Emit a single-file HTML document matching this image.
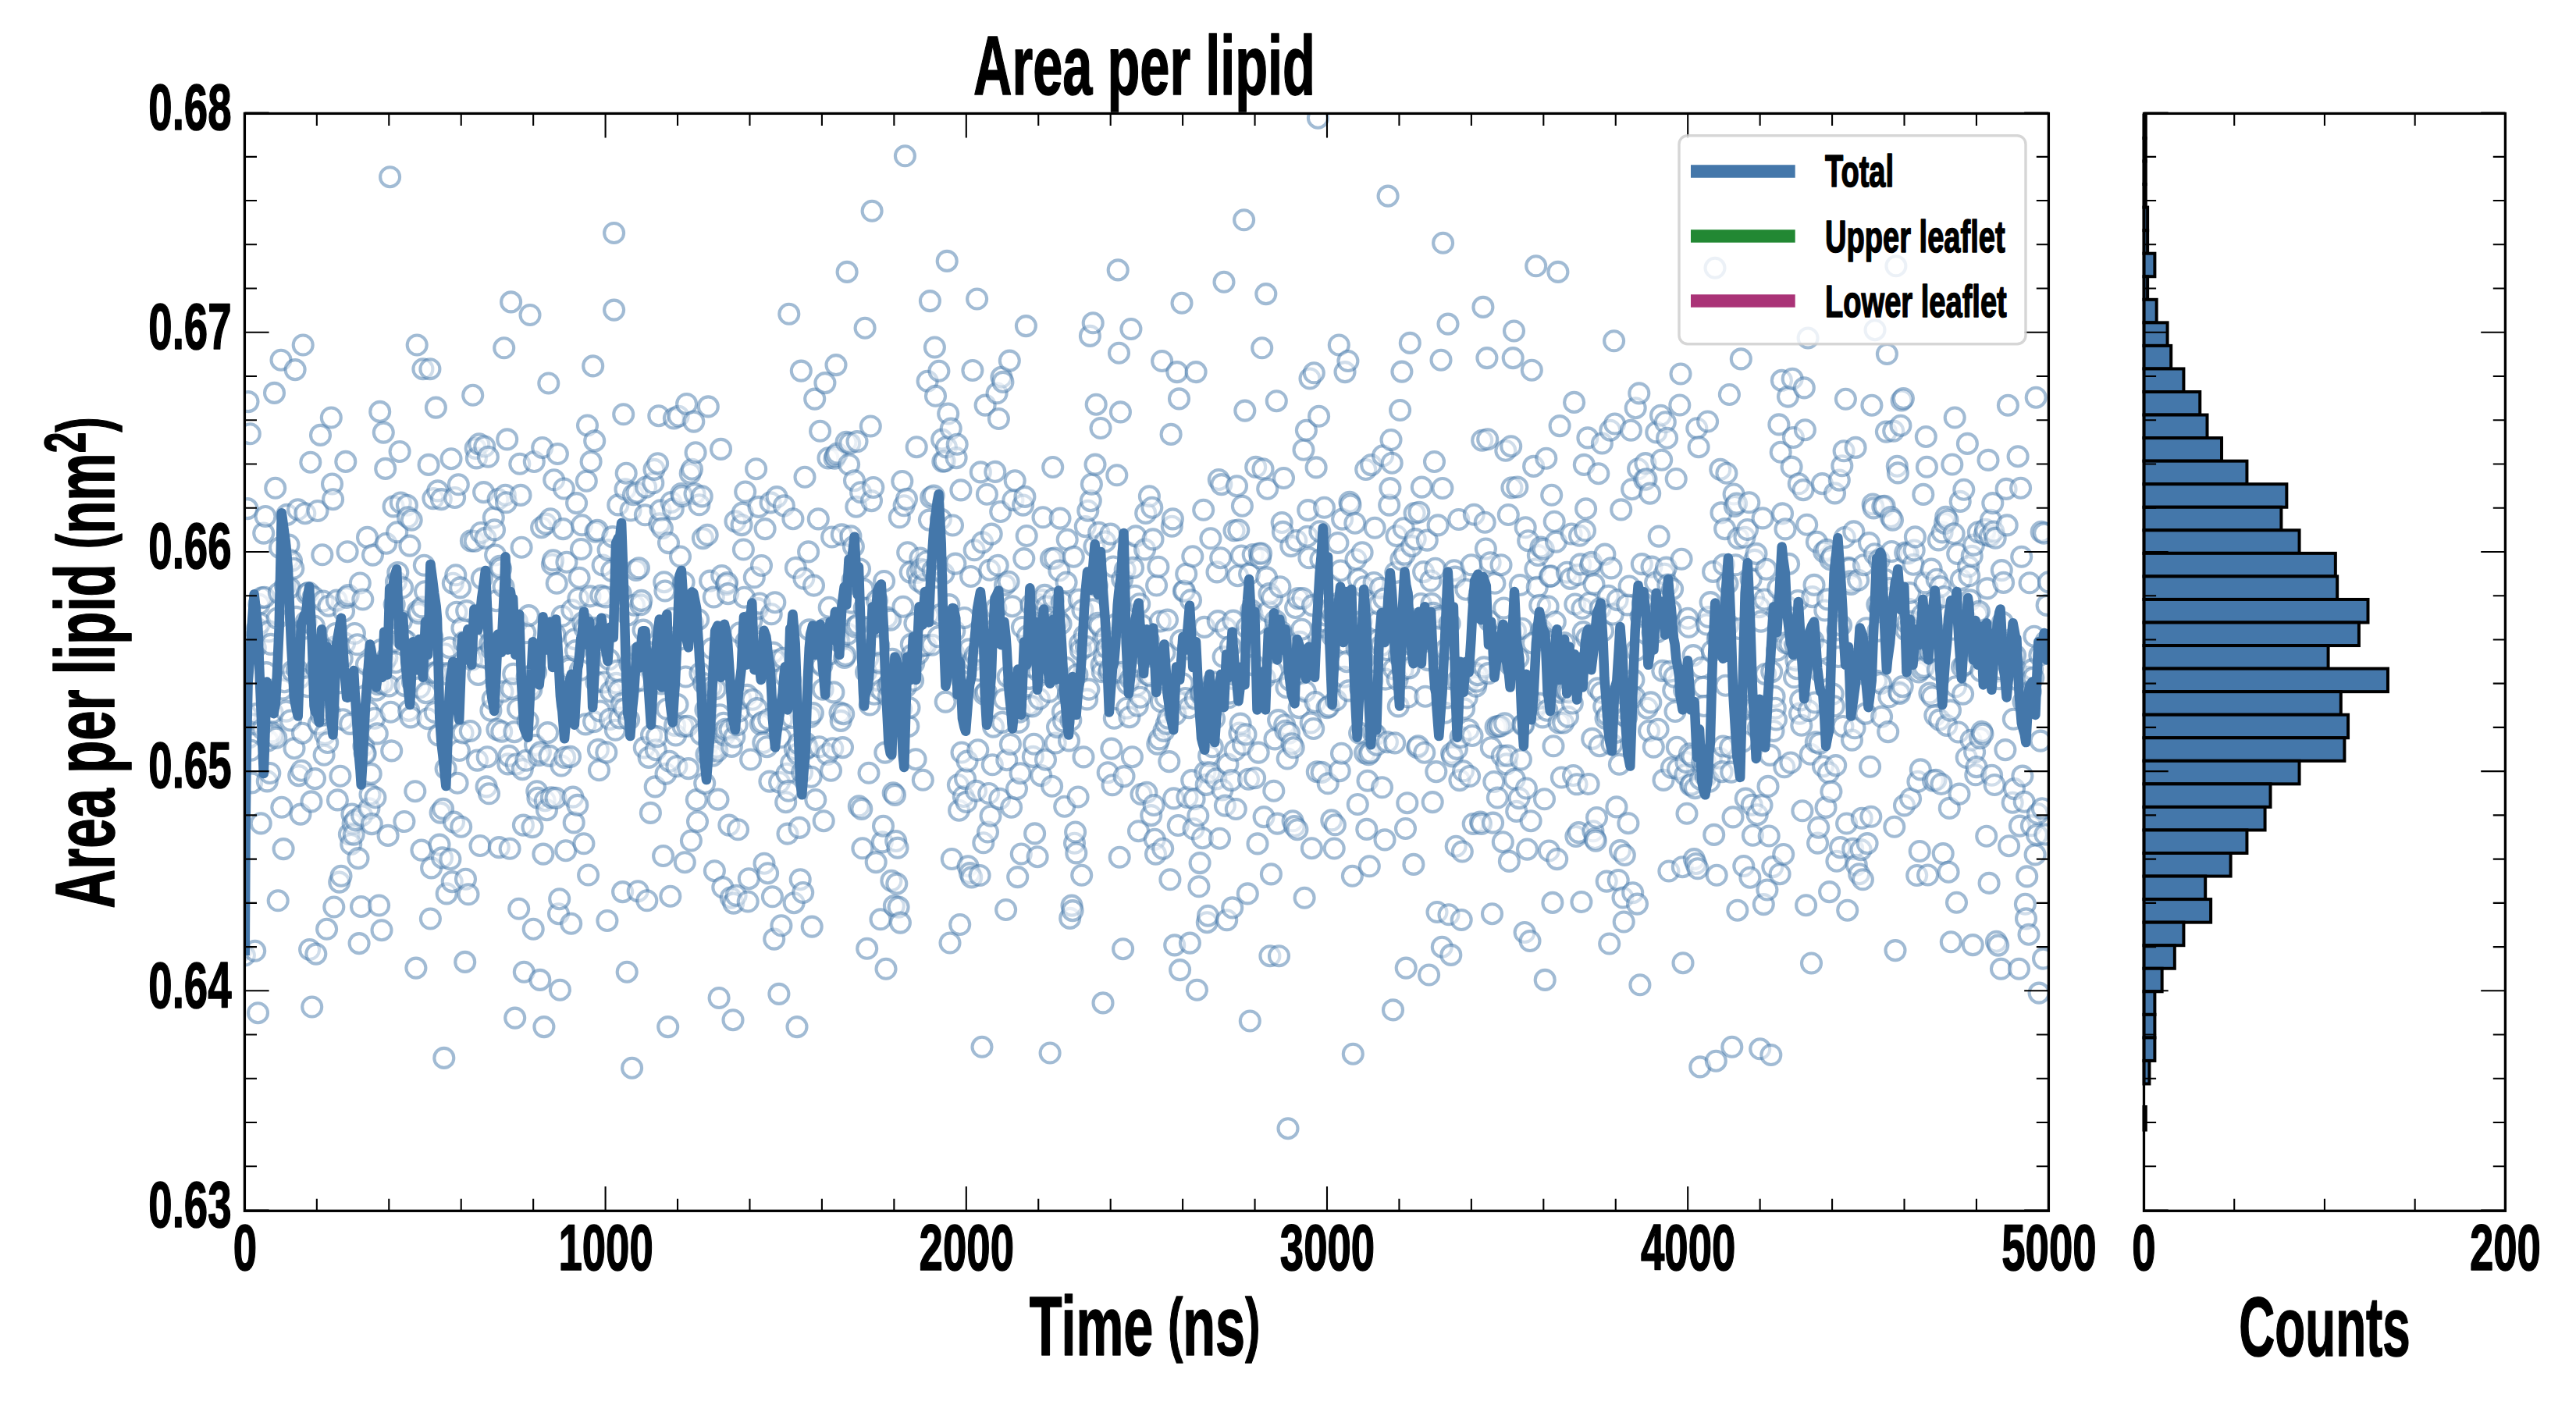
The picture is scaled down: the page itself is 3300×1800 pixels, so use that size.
<!DOCTYPE html><html><head><meta charset="utf-8"><title>Area per lipid</title><style>html,body{margin:0;padding:0;background:#fff}svg{display:block}text{font-family:"Liberation Sans",sans-serif;font-weight:bold;fill:#000;stroke:#000;stroke-width:1.6px;stroke-linejoin:round}</style></head><body>
<svg width="3300" height="1800" viewBox="0 0 3300 1800">
<rect width="3300" height="1800" fill="#fff"/>
<defs><clipPath id="c1"><rect x="313.4" y="145.4" width="2311.0" height="1405.8999999999999"/></clipPath><clipPath id="c2"><rect x="2742.5" y="145.4" width="466.9000000000001" height="1405.8999999999999"/></clipPath></defs>
<g clip-path="url(#c1)" fill="#fff" fill-opacity="0.5" stroke="#4477AA" stroke-opacity="0.5" stroke-width="4.1">
<circle cx="308.7" cy="1218.3" r="12.5"/>
<circle cx="313.4" cy="1224.0" r="12.5"/>
<circle cx="315.7" cy="915.7" r="12.5"/>
<circle cx="316.9" cy="651.6" r="12.5"/>
<circle cx="318.0" cy="514.6" r="12.5"/>
<circle cx="319.2" cy="944.6" r="12.5"/>
<circle cx="320.3" cy="555.8" r="12.5"/>
<circle cx="321.5" cy="961.2" r="12.5"/>
<circle cx="322.6" cy="1002.9" r="12.5"/>
<circle cx="323.8" cy="927.7" r="12.5"/>
<circle cx="325.0" cy="819.6" r="12.5"/>
<circle cx="326.7" cy="1218.3" r="12.5"/>
<circle cx="327.3" cy="829.7" r="12.5"/>
<circle cx="328.4" cy="914.6" r="12.5"/>
<circle cx="329.6" cy="805.3" r="12.5"/>
<circle cx="330.5" cy="1297.7" r="12.5"/>
<circle cx="331.9" cy="774.2" r="12.5"/>
<circle cx="333.0" cy="798.5" r="12.5"/>
<circle cx="334.2" cy="1054.9" r="12.5"/>
<circle cx="335.4" cy="765.8" r="12.5"/>
<circle cx="336.5" cy="934.0" r="12.5"/>
<circle cx="337.7" cy="683.1" r="12.5"/>
<circle cx="338.8" cy="765.2" r="12.5"/>
<circle cx="340.0" cy="661.5" r="12.5"/>
<circle cx="341.1" cy="861.6" r="12.5"/>
<circle cx="342.3" cy="1000.9" r="12.5"/>
<circle cx="343.4" cy="948.9" r="12.5"/>
<circle cx="344.6" cy="808.9" r="12.5"/>
<circle cx="345.8" cy="990.5" r="12.5"/>
<circle cx="346.9" cy="825.4" r="12.5"/>
<circle cx="348.1" cy="938.0" r="12.5"/>
<circle cx="349.2" cy="913.0" r="12.5"/>
<circle cx="350.4" cy="942.3" r="12.5"/>
<circle cx="351.5" cy="503.4" r="12.5"/>
<circle cx="352.7" cy="625.3" r="12.5"/>
<circle cx="353.8" cy="945.3" r="12.5"/>
<circle cx="355.0" cy="792.2" r="12.5"/>
<circle cx="356.2" cy="1153.8" r="12.5"/>
<circle cx="357.3" cy="759.7" r="12.5"/>
<circle cx="358.5" cy="701.7" r="12.5"/>
<circle cx="360.0" cy="461.2" r="12.5"/>
<circle cx="360.8" cy="1034.3" r="12.5"/>
<circle cx="361.9" cy="883.1" r="12.5"/>
<circle cx="363.1" cy="1087.6" r="12.5"/>
<circle cx="364.2" cy="873.7" r="12.5"/>
<circle cx="365.4" cy="750.6" r="12.5"/>
<circle cx="366.6" cy="911.1" r="12.5"/>
<circle cx="367.7" cy="659.4" r="12.5"/>
<circle cx="368.9" cy="716.4" r="12.5"/>
<circle cx="370.0" cy="698.0" r="12.5"/>
<circle cx="371.2" cy="753.1" r="12.5"/>
<circle cx="372.3" cy="923.0" r="12.5"/>
<circle cx="373.5" cy="718.5" r="12.5"/>
<circle cx="374.6" cy="859.7" r="12.5"/>
<circle cx="375.8" cy="728.3" r="12.5"/>
<circle cx="377.0" cy="958.7" r="12.5"/>
<circle cx="378.1" cy="473.6" r="12.5"/>
<circle cx="379.3" cy="790.4" r="12.5"/>
<circle cx="380.4" cy="857.7" r="12.5"/>
<circle cx="381.6" cy="652.8" r="12.5"/>
<circle cx="382.7" cy="993.6" r="12.5"/>
<circle cx="383.9" cy="868.6" r="12.5"/>
<circle cx="385.0" cy="1043.1" r="12.5"/>
<circle cx="386.2" cy="987.2" r="12.5"/>
<circle cx="387.4" cy="939.2" r="12.5"/>
<circle cx="388.2" cy="442.0" r="12.5"/>
<circle cx="389.7" cy="805.2" r="12.5"/>
<circle cx="390.8" cy="657.7" r="12.5"/>
<circle cx="392.0" cy="796.7" r="12.5"/>
<circle cx="393.1" cy="760.6" r="12.5"/>
<circle cx="394.3" cy="879.7" r="12.5"/>
<circle cx="395.4" cy="759.2" r="12.5"/>
<circle cx="396.6" cy="1216.5" r="12.5"/>
<circle cx="397.8" cy="592.2" r="12.5"/>
<circle cx="398.9" cy="1026.9" r="12.5"/>
<circle cx="399.7" cy="1290.0" r="12.5"/>
<circle cx="401.2" cy="764.5" r="12.5"/>
<circle cx="402.4" cy="802.0" r="12.5"/>
<circle cx="403.5" cy="997.6" r="12.5"/>
<circle cx="404.8" cy="1222.1" r="12.5"/>
<circle cx="405.8" cy="856.5" r="12.5"/>
<circle cx="407.0" cy="654.5" r="12.5"/>
<circle cx="408.2" cy="927.5" r="12.5"/>
<circle cx="409.3" cy="828.6" r="12.5"/>
<circle cx="410.5" cy="557.4" r="12.5"/>
<circle cx="411.6" cy="916.7" r="12.5"/>
<circle cx="412.8" cy="710.8" r="12.5"/>
<circle cx="413.9" cy="770.0" r="12.5"/>
<circle cx="415.1" cy="967.2" r="12.5"/>
<circle cx="416.2" cy="940.6" r="12.5"/>
<circle cx="417.4" cy="838.7" r="12.5"/>
<circle cx="418.6" cy="1190.3" r="12.5"/>
<circle cx="419.7" cy="951.5" r="12.5"/>
<circle cx="420.9" cy="776.2" r="12.5"/>
<circle cx="422.0" cy="912.4" r="12.5"/>
<circle cx="423.2" cy="845.4" r="12.5"/>
<circle cx="424.3" cy="535.0" r="12.5"/>
<circle cx="425.5" cy="620.0" r="12.5"/>
<circle cx="426.6" cy="639.7" r="12.5"/>
<circle cx="427.8" cy="1162.0" r="12.5"/>
<circle cx="428.9" cy="828.9" r="12.5"/>
<circle cx="430.1" cy="811.5" r="12.5"/>
<circle cx="431.3" cy="769.1" r="12.5"/>
<circle cx="432.4" cy="1024.9" r="12.5"/>
<circle cx="433.6" cy="875.0" r="12.5"/>
<circle cx="434.7" cy="1130.1" r="12.5"/>
<circle cx="435.9" cy="994.2" r="12.5"/>
<circle cx="437.0" cy="1122.3" r="12.5"/>
<circle cx="438.2" cy="843.7" r="12.5"/>
<circle cx="439.3" cy="921.8" r="12.5"/>
<circle cx="440.5" cy="782.9" r="12.5"/>
<circle cx="441.7" cy="824.1" r="12.5"/>
<circle cx="442.8" cy="591.4" r="12.5"/>
<circle cx="444.0" cy="765.4" r="12.5"/>
<circle cx="445.1" cy="706.7" r="12.5"/>
<circle cx="446.3" cy="762.6" r="12.5"/>
<circle cx="447.4" cy="1068.8" r="12.5"/>
<circle cx="448.6" cy="927.4" r="12.5"/>
<circle cx="449.7" cy="1081.4" r="12.5"/>
<circle cx="450.9" cy="1043.0" r="12.5"/>
<circle cx="452.1" cy="1055.2" r="12.5"/>
<circle cx="453.2" cy="1069.1" r="12.5"/>
<circle cx="454.4" cy="811.5" r="12.5"/>
<circle cx="455.5" cy="1050.6" r="12.5"/>
<circle cx="456.7" cy="869.3" r="12.5"/>
<circle cx="457.8" cy="825.8" r="12.5"/>
<circle cx="459.0" cy="1099.6" r="12.5"/>
<circle cx="460.1" cy="1208.6" r="12.5"/>
<circle cx="461.3" cy="747.0" r="12.5"/>
<circle cx="462.5" cy="1161.5" r="12.5"/>
<circle cx="463.6" cy="1044.8" r="12.5"/>
<circle cx="464.8" cy="768.0" r="12.5"/>
<circle cx="465.9" cy="955.7" r="12.5"/>
<circle cx="467.1" cy="964.7" r="12.5"/>
<circle cx="468.2" cy="965.5" r="12.5"/>
<circle cx="469.4" cy="851.3" r="12.5"/>
<circle cx="470.5" cy="688.4" r="12.5"/>
<circle cx="471.7" cy="911.1" r="12.5"/>
<circle cx="472.9" cy="1035.7" r="12.5"/>
<circle cx="474.0" cy="1017.9" r="12.5"/>
<circle cx="475.2" cy="991.4" r="12.5"/>
<circle cx="476.3" cy="1055.6" r="12.5"/>
<circle cx="477.5" cy="711.1" r="12.5"/>
<circle cx="478.6" cy="862.8" r="12.5"/>
<circle cx="479.8" cy="920.3" r="12.5"/>
<circle cx="480.9" cy="1021.8" r="12.5"/>
<circle cx="482.1" cy="884.1" r="12.5"/>
<circle cx="483.3" cy="939.9" r="12.5"/>
<circle cx="484.4" cy="876.7" r="12.5"/>
<circle cx="485.6" cy="1160.0" r="12.5"/>
<circle cx="486.7" cy="527.4" r="12.5"/>
<circle cx="487.9" cy="832.5" r="12.5"/>
<circle cx="489.0" cy="1191.7" r="12.5"/>
<circle cx="490.2" cy="875.7" r="12.5"/>
<circle cx="491.3" cy="554.1" r="12.5"/>
<circle cx="492.5" cy="848.5" r="12.5"/>
<circle cx="493.7" cy="600.4" r="12.5"/>
<circle cx="494.8" cy="696.2" r="12.5"/>
<circle cx="496.0" cy="842.4" r="12.5"/>
<circle cx="497.1" cy="1070.4" r="12.5"/>
<circle cx="498.3" cy="878.9" r="12.5"/>
<circle cx="499.6" cy="226.7" r="12.5"/>
<circle cx="500.6" cy="912.2" r="12.5"/>
<circle cx="501.7" cy="961.9" r="12.5"/>
<circle cx="502.9" cy="822.3" r="12.5"/>
<circle cx="504.1" cy="648.9" r="12.5"/>
<circle cx="505.2" cy="774.5" r="12.5"/>
<circle cx="506.4" cy="848.6" r="12.5"/>
<circle cx="507.5" cy="745.5" r="12.5"/>
<circle cx="508.7" cy="681.8" r="12.5"/>
<circle cx="509.8" cy="733.5" r="12.5"/>
<circle cx="512.1" cy="578.5" r="12.5"/>
<circle cx="513.3" cy="644.0" r="12.5"/>
<circle cx="514.5" cy="795.5" r="12.5"/>
<circle cx="515.6" cy="752.8" r="12.5"/>
<circle cx="516.8" cy="819.3" r="12.5"/>
<circle cx="517.9" cy="1052.5" r="12.5"/>
<circle cx="519.1" cy="878.6" r="12.5"/>
<circle cx="520.2" cy="821.2" r="12.5"/>
<circle cx="521.4" cy="647.3" r="12.5"/>
<circle cx="522.5" cy="662.8" r="12.5"/>
<circle cx="523.7" cy="910.4" r="12.5"/>
<circle cx="524.9" cy="699.1" r="12.5"/>
<circle cx="526.0" cy="918.9" r="12.5"/>
<circle cx="527.2" cy="666.3" r="12.5"/>
<circle cx="528.3" cy="873.2" r="12.5"/>
<circle cx="529.5" cy="836.7" r="12.5"/>
<circle cx="531.8" cy="1013.7" r="12.5"/>
<circle cx="532.9" cy="1240.1" r="12.5"/>
<circle cx="534.2" cy="442.0" r="12.5"/>
<circle cx="535.3" cy="782.7" r="12.5"/>
<circle cx="536.4" cy="785.7" r="12.5"/>
<circle cx="537.6" cy="880.8" r="12.5"/>
<circle cx="538.7" cy="838.9" r="12.5"/>
<circle cx="539.9" cy="1089.1" r="12.5"/>
<circle cx="541.0" cy="777.9" r="12.5"/>
<circle cx="541.9" cy="472.7" r="12.5"/>
<circle cx="543.3" cy="724.3" r="12.5"/>
<circle cx="544.5" cy="757.8" r="12.5"/>
<circle cx="545.7" cy="887.6" r="12.5"/>
<circle cx="546.8" cy="840.7" r="12.5"/>
<circle cx="548.0" cy="920.7" r="12.5"/>
<circle cx="549.1" cy="595.4" r="12.5"/>
<circle cx="550.9" cy="472.7" r="12.5"/>
<circle cx="551.4" cy="1177.0" r="12.5"/>
<circle cx="552.6" cy="1111.9" r="12.5"/>
<circle cx="553.7" cy="815.7" r="12.5"/>
<circle cx="554.9" cy="638.6" r="12.5"/>
<circle cx="556.1" cy="861.8" r="12.5"/>
<circle cx="557.2" cy="912.5" r="12.5"/>
<circle cx="558.4" cy="522.1" r="12.5"/>
<circle cx="559.5" cy="862.3" r="12.5"/>
<circle cx="560.7" cy="628.9" r="12.5"/>
<circle cx="561.8" cy="942.0" r="12.5"/>
<circle cx="563.0" cy="1082.1" r="12.5"/>
<circle cx="564.1" cy="1041.1" r="12.5"/>
<circle cx="565.3" cy="639.6" r="12.5"/>
<circle cx="566.5" cy="1098.9" r="12.5"/>
<circle cx="567.6" cy="1036.3" r="12.5"/>
<circle cx="568.8" cy="1355.4" r="12.5"/>
<circle cx="569.9" cy="837.8" r="12.5"/>
<circle cx="571.1" cy="984.8" r="12.5"/>
<circle cx="572.2" cy="1144.9" r="12.5"/>
<circle cx="573.4" cy="863.9" r="12.5"/>
<circle cx="574.5" cy="921.2" r="12.5"/>
<circle cx="575.7" cy="829.7" r="12.5"/>
<circle cx="576.9" cy="1100.7" r="12.5"/>
<circle cx="578.0" cy="587.7" r="12.5"/>
<circle cx="579.2" cy="1129.6" r="12.5"/>
<circle cx="580.3" cy="747.2" r="12.5"/>
<circle cx="581.5" cy="1053.1" r="12.5"/>
<circle cx="582.6" cy="637.5" r="12.5"/>
<circle cx="583.8" cy="736.8" r="12.5"/>
<circle cx="584.9" cy="784.2" r="12.5"/>
<circle cx="586.1" cy="1003.2" r="12.5"/>
<circle cx="587.3" cy="620.8" r="12.5"/>
<circle cx="588.4" cy="961.5" r="12.5"/>
<circle cx="589.6" cy="752.9" r="12.5"/>
<circle cx="590.7" cy="1059.2" r="12.5"/>
<circle cx="591.9" cy="804.8" r="12.5"/>
<circle cx="593.0" cy="939.0" r="12.5"/>
<circle cx="594.2" cy="822.5" r="12.5"/>
<circle cx="595.7" cy="1232.4" r="12.5"/>
<circle cx="596.5" cy="1126.2" r="12.5"/>
<circle cx="597.7" cy="782.6" r="12.5"/>
<circle cx="598.8" cy="830.5" r="12.5"/>
<circle cx="600.0" cy="1145.8" r="12.5"/>
<circle cx="601.1" cy="838.4" r="12.5"/>
<circle cx="602.3" cy="936.5" r="12.5"/>
<circle cx="603.4" cy="692.9" r="12.5"/>
<circle cx="604.6" cy="845.3" r="12.5"/>
<circle cx="605.7" cy="506.3" r="12.5"/>
<circle cx="606.9" cy="821.4" r="12.5"/>
<circle cx="608.1" cy="693.3" r="12.5"/>
<circle cx="609.2" cy="574.4" r="12.5"/>
<circle cx="610.4" cy="586.9" r="12.5"/>
<circle cx="611.5" cy="974.1" r="12.5"/>
<circle cx="612.7" cy="864.4" r="12.5"/>
<circle cx="613.8" cy="568.9" r="12.5"/>
<circle cx="615.0" cy="1083.5" r="12.5"/>
<circle cx="616.1" cy="682.5" r="12.5"/>
<circle cx="617.3" cy="741.1" r="12.5"/>
<circle cx="618.5" cy="842.0" r="12.5"/>
<circle cx="619.6" cy="630.6" r="12.5"/>
<circle cx="620.8" cy="572.0" r="12.5"/>
<circle cx="621.9" cy="689.4" r="12.5"/>
<circle cx="623.1" cy="1007.9" r="12.5"/>
<circle cx="624.2" cy="969.7" r="12.5"/>
<circle cx="625.4" cy="585.3" r="12.5"/>
<circle cx="626.5" cy="1016.8" r="12.5"/>
<circle cx="627.7" cy="824.5" r="12.5"/>
<circle cx="628.9" cy="910.3" r="12.5"/>
<circle cx="630.0" cy="831.9" r="12.5"/>
<circle cx="631.2" cy="895.6" r="12.5"/>
<circle cx="632.3" cy="663.1" r="12.5"/>
<circle cx="633.5" cy="678.9" r="12.5"/>
<circle cx="634.6" cy="711.0" r="12.5"/>
<circle cx="635.8" cy="769.7" r="12.5"/>
<circle cx="636.9" cy="934.6" r="12.5"/>
<circle cx="638.1" cy="639.5" r="12.5"/>
<circle cx="639.3" cy="1085.6" r="12.5"/>
<circle cx="640.4" cy="725.4" r="12.5"/>
<circle cx="641.6" cy="728.7" r="12.5"/>
<circle cx="642.7" cy="937.2" r="12.5"/>
<circle cx="643.9" cy="886.0" r="12.5"/>
<circle cx="645.0" cy="751.7" r="12.5"/>
<circle cx="645.7" cy="445.8" r="12.5"/>
<circle cx="647.3" cy="634.2" r="12.5"/>
<circle cx="648.5" cy="643.8" r="12.5"/>
<circle cx="649.7" cy="562.9" r="12.5"/>
<circle cx="650.8" cy="978.9" r="12.5"/>
<circle cx="652.0" cy="968.4" r="12.5"/>
<circle cx="653.1" cy="1087.3" r="12.5"/>
<circle cx="654.6" cy="386.9" r="12.5"/>
<circle cx="655.4" cy="882.4" r="12.5"/>
<circle cx="657.7" cy="863.3" r="12.5"/>
<circle cx="658.9" cy="937.6" r="12.5"/>
<circle cx="659.7" cy="1304.1" r="12.5"/>
<circle cx="661.2" cy="979.0" r="12.5"/>
<circle cx="662.4" cy="796.4" r="12.5"/>
<circle cx="663.5" cy="908.2" r="12.5"/>
<circle cx="664.7" cy="1164.3" r="12.5"/>
<circle cx="665.8" cy="594.3" r="12.5"/>
<circle cx="667.0" cy="634.4" r="12.5"/>
<circle cx="668.1" cy="701.2" r="12.5"/>
<circle cx="669.3" cy="985.6" r="12.5"/>
<circle cx="670.4" cy="1057.1" r="12.5"/>
<circle cx="671.3" cy="1245.2" r="12.5"/>
<circle cx="672.8" cy="810.8" r="12.5"/>
<circle cx="673.9" cy="974.3" r="12.5"/>
<circle cx="675.1" cy="867.0" r="12.5"/>
<circle cx="676.2" cy="923.5" r="12.5"/>
<circle cx="677.4" cy="788.6" r="12.5"/>
<circle cx="679.0" cy="403.5" r="12.5"/>
<circle cx="679.7" cy="879.6" r="12.5"/>
<circle cx="680.8" cy="883.8" r="12.5"/>
<circle cx="682.0" cy="1059.6" r="12.5"/>
<circle cx="683.2" cy="1190.2" r="12.5"/>
<circle cx="684.3" cy="591.5" r="12.5"/>
<circle cx="685.5" cy="954.5" r="12.5"/>
<circle cx="686.6" cy="860.8" r="12.5"/>
<circle cx="687.8" cy="1013.8" r="12.5"/>
<circle cx="688.9" cy="1022.3" r="12.5"/>
<circle cx="690.1" cy="967.8" r="12.5"/>
<circle cx="691.8" cy="1255.4" r="12.5"/>
<circle cx="692.4" cy="963.8" r="12.5"/>
<circle cx="693.6" cy="675.7" r="12.5"/>
<circle cx="694.7" cy="573.5" r="12.5"/>
<circle cx="695.9" cy="1094.1" r="12.5"/>
<circle cx="696.9" cy="1315.6" r="12.5"/>
<circle cx="698.2" cy="1025.7" r="12.5"/>
<circle cx="699.3" cy="671.1" r="12.5"/>
<circle cx="700.5" cy="1037.7" r="12.5"/>
<circle cx="701.6" cy="938.6" r="12.5"/>
<circle cx="702.8" cy="491.0" r="12.5"/>
<circle cx="704.0" cy="968.4" r="12.5"/>
<circle cx="705.1" cy="664.8" r="12.5"/>
<circle cx="706.3" cy="1021.7" r="12.5"/>
<circle cx="707.4" cy="723.0" r="12.5"/>
<circle cx="708.6" cy="717.8" r="12.5"/>
<circle cx="709.7" cy="614.8" r="12.5"/>
<circle cx="710.9" cy="812.5" r="12.5"/>
<circle cx="712.0" cy="1022.4" r="12.5"/>
<circle cx="713.2" cy="747.3" r="12.5"/>
<circle cx="714.4" cy="581.5" r="12.5"/>
<circle cx="715.5" cy="1170.7" r="12.5"/>
<circle cx="716.7" cy="1151.7" r="12.5"/>
<circle cx="717.4" cy="1268.2" r="12.5"/>
<circle cx="719.0" cy="981.0" r="12.5"/>
<circle cx="720.1" cy="789.3" r="12.5"/>
<circle cx="721.3" cy="677.6" r="12.5"/>
<circle cx="722.4" cy="626.0" r="12.5"/>
<circle cx="723.6" cy="970.4" r="12.5"/>
<circle cx="724.8" cy="1089.7" r="12.5"/>
<circle cx="725.9" cy="720.2" r="12.5"/>
<circle cx="727.1" cy="895.6" r="12.5"/>
<circle cx="728.2" cy="853.6" r="12.5"/>
<circle cx="729.4" cy="857.0" r="12.5"/>
<circle cx="730.5" cy="969.4" r="12.5"/>
<circle cx="731.7" cy="1183.3" r="12.5"/>
<circle cx="732.8" cy="781.5" r="12.5"/>
<circle cx="734.0" cy="1021.1" r="12.5"/>
<circle cx="735.2" cy="1053.9" r="12.5"/>
<circle cx="736.3" cy="818.7" r="12.5"/>
<circle cx="737.5" cy="833.6" r="12.5"/>
<circle cx="738.6" cy="644.6" r="12.5"/>
<circle cx="739.8" cy="1031.4" r="12.5"/>
<circle cx="740.9" cy="766.7" r="12.5"/>
<circle cx="742.1" cy="740.2" r="12.5"/>
<circle cx="743.2" cy="858.5" r="12.5"/>
<circle cx="744.4" cy="703.5" r="12.5"/>
<circle cx="745.6" cy="672.8" r="12.5"/>
<circle cx="746.7" cy="797.6" r="12.5"/>
<circle cx="747.9" cy="1080.8" r="12.5"/>
<circle cx="749.0" cy="805.0" r="12.5"/>
<circle cx="750.2" cy="927.9" r="12.5"/>
<circle cx="751.3" cy="616.2" r="12.5"/>
<circle cx="752.5" cy="545.0" r="12.5"/>
<circle cx="753.6" cy="1121.0" r="12.5"/>
<circle cx="756.0" cy="763.9" r="12.5"/>
<circle cx="757.1" cy="591.4" r="12.5"/>
<circle cx="758.3" cy="804.4" r="12.5"/>
<circle cx="759.7" cy="468.9" r="12.5"/>
<circle cx="760.6" cy="924.6" r="12.5"/>
<circle cx="761.7" cy="564.9" r="12.5"/>
<circle cx="762.9" cy="681.3" r="12.5"/>
<circle cx="764.0" cy="873.9" r="12.5"/>
<circle cx="765.2" cy="679.3" r="12.5"/>
<circle cx="766.4" cy="960.4" r="12.5"/>
<circle cx="767.5" cy="986.7" r="12.5"/>
<circle cx="768.7" cy="911.0" r="12.5"/>
<circle cx="769.8" cy="763.1" r="12.5"/>
<circle cx="771.0" cy="819.8" r="12.5"/>
<circle cx="772.1" cy="724.1" r="12.5"/>
<circle cx="773.3" cy="800.6" r="12.5"/>
<circle cx="774.4" cy="874.0" r="12.5"/>
<circle cx="775.6" cy="764.9" r="12.5"/>
<circle cx="776.8" cy="963.9" r="12.5"/>
<circle cx="777.9" cy="1179.5" r="12.5"/>
<circle cx="779.1" cy="704.6" r="12.5"/>
<circle cx="780.2" cy="844.8" r="12.5"/>
<circle cx="781.4" cy="921.4" r="12.5"/>
<circle cx="782.5" cy="885.9" r="12.5"/>
<circle cx="783.7" cy="731.5" r="12.5"/>
<circle cx="784.8" cy="687.6" r="12.5"/>
<circle cx="786.6" cy="298.5" r="12.5"/>
<circle cx="786.6" cy="397.1" r="12.5"/>
<circle cx="788.3" cy="935.3" r="12.5"/>
<circle cx="789.5" cy="875.4" r="12.5"/>
<circle cx="790.6" cy="859.3" r="12.5"/>
<circle cx="791.8" cy="646.9" r="12.5"/>
<circle cx="792.9" cy="884.7" r="12.5"/>
<circle cx="794.1" cy="919.9" r="12.5"/>
<circle cx="795.2" cy="760.0" r="12.5"/>
<circle cx="796.4" cy="901.6" r="12.5"/>
<circle cx="797.6" cy="1142.6" r="12.5"/>
<circle cx="798.7" cy="530.8" r="12.5"/>
<circle cx="799.9" cy="908.1" r="12.5"/>
<circle cx="801.0" cy="626.9" r="12.5"/>
<circle cx="802.2" cy="606.3" r="12.5"/>
<circle cx="803.2" cy="1245.2" r="12.5"/>
<circle cx="804.5" cy="787.9" r="12.5"/>
<circle cx="805.6" cy="921.8" r="12.5"/>
<circle cx="806.8" cy="850.6" r="12.5"/>
<circle cx="808.0" cy="654.0" r="12.5"/>
<circle cx="809.6" cy="1368.2" r="12.5"/>
<circle cx="811.4" cy="633.7" r="12.5"/>
<circle cx="812.6" cy="775.3" r="12.5"/>
<circle cx="813.7" cy="873.7" r="12.5"/>
<circle cx="814.9" cy="730.4" r="12.5"/>
<circle cx="816.0" cy="631.0" r="12.5"/>
<circle cx="817.2" cy="1141.7" r="12.5"/>
<circle cx="818.4" cy="727.8" r="12.5"/>
<circle cx="819.5" cy="836.1" r="12.5"/>
<circle cx="820.7" cy="774.8" r="12.5"/>
<circle cx="821.8" cy="769.4" r="12.5"/>
<circle cx="823.0" cy="871.6" r="12.5"/>
<circle cx="824.1" cy="807.1" r="12.5"/>
<circle cx="825.3" cy="957.9" r="12.5"/>
<circle cx="826.4" cy="659.8" r="12.5"/>
<circle cx="827.6" cy="624.1" r="12.5"/>
<circle cx="828.8" cy="1153.8" r="12.5"/>
<circle cx="829.9" cy="835.4" r="12.5"/>
<circle cx="831.1" cy="970.4" r="12.5"/>
<circle cx="833.4" cy="1041.4" r="12.5"/>
<circle cx="834.5" cy="941.8" r="12.5"/>
<circle cx="835.7" cy="858.3" r="12.5"/>
<circle cx="836.8" cy="618.8" r="12.5"/>
<circle cx="838.0" cy="601.4" r="12.5"/>
<circle cx="839.2" cy="1007.9" r="12.5"/>
<circle cx="840.3" cy="960.7" r="12.5"/>
<circle cx="841.5" cy="943.6" r="12.5"/>
<circle cx="842.6" cy="593.7" r="12.5"/>
<circle cx="843.8" cy="532.7" r="12.5"/>
<circle cx="844.9" cy="670.9" r="12.5"/>
<circle cx="846.1" cy="653.8" r="12.5"/>
<circle cx="847.2" cy="875.9" r="12.5"/>
<circle cx="848.4" cy="676.7" r="12.5"/>
<circle cx="849.6" cy="1096.5" r="12.5"/>
<circle cx="850.7" cy="745.7" r="12.5"/>
<circle cx="851.9" cy="757.0" r="12.5"/>
<circle cx="853.0" cy="991.2" r="12.5"/>
<circle cx="854.2" cy="908.3" r="12.5"/>
<circle cx="855.7" cy="1315.6" r="12.5"/>
<circle cx="856.5" cy="695.6" r="12.5"/>
<circle cx="857.6" cy="975.2" r="12.5"/>
<circle cx="858.8" cy="1148.2" r="12.5"/>
<circle cx="860.0" cy="643.5" r="12.5"/>
<circle cx="861.1" cy="792.2" r="12.5"/>
<circle cx="862.3" cy="651.9" r="12.5"/>
<circle cx="863.4" cy="536.0" r="12.5"/>
<circle cx="864.6" cy="929.4" r="12.5"/>
<circle cx="865.7" cy="942.0" r="12.5"/>
<circle cx="866.9" cy="981.7" r="12.5"/>
<circle cx="868.0" cy="902.5" r="12.5"/>
<circle cx="869.2" cy="533.3" r="12.5"/>
<circle cx="870.4" cy="819.3" r="12.5"/>
<circle cx="871.5" cy="713.0" r="12.5"/>
<circle cx="872.7" cy="632.6" r="12.5"/>
<circle cx="873.8" cy="635.7" r="12.5"/>
<circle cx="875.0" cy="930.5" r="12.5"/>
<circle cx="876.1" cy="746.0" r="12.5"/>
<circle cx="877.3" cy="1104.7" r="12.5"/>
<circle cx="878.4" cy="867.0" r="12.5"/>
<circle cx="879.6" cy="517.5" r="12.5"/>
<circle cx="880.8" cy="930.2" r="12.5"/>
<circle cx="881.9" cy="984.6" r="12.5"/>
<circle cx="883.1" cy="788.9" r="12.5"/>
<circle cx="884.2" cy="606.4" r="12.5"/>
<circle cx="885.4" cy="1077.0" r="12.5"/>
<circle cx="886.5" cy="601.2" r="12.5"/>
<circle cx="887.7" cy="798.7" r="12.5"/>
<circle cx="888.8" cy="540.1" r="12.5"/>
<circle cx="890.0" cy="632.6" r="12.5"/>
<circle cx="891.1" cy="579.8" r="12.5"/>
<circle cx="892.3" cy="1024.6" r="12.5"/>
<circle cx="893.5" cy="1052.5" r="12.5"/>
<circle cx="894.6" cy="793.7" r="12.5"/>
<circle cx="895.8" cy="646.8" r="12.5"/>
<circle cx="896.9" cy="862.5" r="12.5"/>
<circle cx="898.1" cy="940.6" r="12.5"/>
<circle cx="899.2" cy="635.9" r="12.5"/>
<circle cx="900.4" cy="689.6" r="12.5"/>
<circle cx="901.5" cy="875.5" r="12.5"/>
<circle cx="902.7" cy="1003.6" r="12.5"/>
<circle cx="903.9" cy="909.4" r="12.5"/>
<circle cx="905.0" cy="966.6" r="12.5"/>
<circle cx="906.2" cy="685.3" r="12.5"/>
<circle cx="907.3" cy="520.9" r="12.5"/>
<circle cx="908.5" cy="951.7" r="12.5"/>
<circle cx="909.6" cy="744.1" r="12.5"/>
<circle cx="910.8" cy="880.7" r="12.5"/>
<circle cx="911.9" cy="830.8" r="12.5"/>
<circle cx="913.1" cy="968.2" r="12.5"/>
<circle cx="914.3" cy="765.0" r="12.5"/>
<circle cx="915.4" cy="1115.7" r="12.5"/>
<circle cx="916.6" cy="882.7" r="12.5"/>
<circle cx="917.7" cy="957.6" r="12.5"/>
<circle cx="918.9" cy="962.2" r="12.5"/>
<circle cx="920.0" cy="1024.1" r="12.5"/>
<circle cx="921.1" cy="1278.5" r="12.5"/>
<circle cx="922.3" cy="915.8" r="12.5"/>
<circle cx="923.5" cy="575.4" r="12.5"/>
<circle cx="924.7" cy="737.5" r="12.5"/>
<circle cx="925.8" cy="1136.8" r="12.5"/>
<circle cx="927.0" cy="926.2" r="12.5"/>
<circle cx="928.1" cy="941.9" r="12.5"/>
<circle cx="929.3" cy="934.4" r="12.5"/>
<circle cx="930.4" cy="748.6" r="12.5"/>
<circle cx="931.6" cy="746.6" r="12.5"/>
<circle cx="932.7" cy="760.6" r="12.5"/>
<circle cx="933.9" cy="1057.1" r="12.5"/>
<circle cx="935.1" cy="934.5" r="12.5"/>
<circle cx="936.2" cy="1150.1" r="12.5"/>
<circle cx="937.4" cy="956.4" r="12.5"/>
<circle cx="939.0" cy="1306.7" r="12.5"/>
<circle cx="939.7" cy="1157.1" r="12.5"/>
<circle cx="940.8" cy="944.1" r="12.5"/>
<circle cx="942.0" cy="667.9" r="12.5"/>
<circle cx="943.1" cy="1147.3" r="12.5"/>
<circle cx="944.3" cy="928.6" r="12.5"/>
<circle cx="945.5" cy="1062.8" r="12.5"/>
<circle cx="946.6" cy="911.2" r="12.5"/>
<circle cx="947.8" cy="810.7" r="12.5"/>
<circle cx="948.9" cy="895.0" r="12.5"/>
<circle cx="950.1" cy="672.6" r="12.5"/>
<circle cx="951.2" cy="657.1" r="12.5"/>
<circle cx="952.4" cy="704.0" r="12.5"/>
<circle cx="953.5" cy="765.2" r="12.5"/>
<circle cx="954.7" cy="630.0" r="12.5"/>
<circle cx="955.9" cy="821.5" r="12.5"/>
<circle cx="957.0" cy="890.4" r="12.5"/>
<circle cx="958.2" cy="1155.0" r="12.5"/>
<circle cx="959.3" cy="1125.7" r="12.5"/>
<circle cx="960.5" cy="820.2" r="12.5"/>
<circle cx="961.6" cy="973.0" r="12.5"/>
<circle cx="962.8" cy="795.3" r="12.5"/>
<circle cx="963.9" cy="896.3" r="12.5"/>
<circle cx="965.1" cy="820.3" r="12.5"/>
<circle cx="966.3" cy="739.8" r="12.5"/>
<circle cx="967.4" cy="840.0" r="12.5"/>
<circle cx="968.6" cy="600.7" r="12.5"/>
<circle cx="969.7" cy="907.6" r="12.5"/>
<circle cx="970.9" cy="779.6" r="12.5"/>
<circle cx="972.0" cy="649.4" r="12.5"/>
<circle cx="973.2" cy="773.0" r="12.5"/>
<circle cx="974.3" cy="927.6" r="12.5"/>
<circle cx="975.5" cy="724.5" r="12.5"/>
<circle cx="976.7" cy="925.3" r="12.5"/>
<circle cx="977.8" cy="951.5" r="12.5"/>
<circle cx="979.0" cy="1106.2" r="12.5"/>
<circle cx="980.1" cy="677.6" r="12.5"/>
<circle cx="981.3" cy="850.3" r="12.5"/>
<circle cx="982.4" cy="956.7" r="12.5"/>
<circle cx="983.6" cy="1118.7" r="12.5"/>
<circle cx="984.7" cy="921.5" r="12.5"/>
<circle cx="985.9" cy="1001.1" r="12.5"/>
<circle cx="987.1" cy="643.9" r="12.5"/>
<circle cx="988.2" cy="786.8" r="12.5"/>
<circle cx="989.4" cy="1148.8" r="12.5"/>
<circle cx="990.5" cy="836.1" r="12.5"/>
<circle cx="991.7" cy="1203.1" r="12.5"/>
<circle cx="992.8" cy="771.7" r="12.5"/>
<circle cx="994.0" cy="846.5" r="12.5"/>
<circle cx="995.1" cy="636.6" r="12.5"/>
<circle cx="997.9" cy="1273.4" r="12.5"/>
<circle cx="998.6" cy="1002.3" r="12.5"/>
<circle cx="999.8" cy="944.8" r="12.5"/>
<circle cx="1000.9" cy="1185.8" r="12.5"/>
<circle cx="1002.1" cy="921.7" r="12.5"/>
<circle cx="1003.2" cy="843.2" r="12.5"/>
<circle cx="1004.4" cy="647.9" r="12.5"/>
<circle cx="1005.5" cy="866.0" r="12.5"/>
<circle cx="1006.7" cy="1027.7" r="12.5"/>
<circle cx="1007.9" cy="991.2" r="12.5"/>
<circle cx="1009.0" cy="1068.1" r="12.5"/>
<circle cx="1010.2" cy="1013.3" r="12.5"/>
<circle cx="1010.8" cy="402.3" r="12.5"/>
<circle cx="1012.5" cy="871.4" r="12.5"/>
<circle cx="1013.6" cy="977.8" r="12.5"/>
<circle cx="1014.8" cy="919.4" r="12.5"/>
<circle cx="1015.9" cy="664.7" r="12.5"/>
<circle cx="1017.1" cy="1156.7" r="12.5"/>
<circle cx="1018.3" cy="959.7" r="12.5"/>
<circle cx="1019.4" cy="727.4" r="12.5"/>
<circle cx="1021.0" cy="1315.6" r="12.5"/>
<circle cx="1021.7" cy="965.9" r="12.5"/>
<circle cx="1022.9" cy="952.6" r="12.5"/>
<circle cx="1024.0" cy="1060.4" r="12.5"/>
<circle cx="1025.2" cy="1126.7" r="12.5"/>
<circle cx="1026.3" cy="475.1" r="12.5"/>
<circle cx="1027.5" cy="989.5" r="12.5"/>
<circle cx="1028.7" cy="1143.5" r="12.5"/>
<circle cx="1029.8" cy="741.1" r="12.5"/>
<circle cx="1031.0" cy="611.2" r="12.5"/>
<circle cx="1032.1" cy="951.9" r="12.5"/>
<circle cx="1033.3" cy="959.1" r="12.5"/>
<circle cx="1034.4" cy="957.8" r="12.5"/>
<circle cx="1035.6" cy="706.9" r="12.5"/>
<circle cx="1036.7" cy="806.9" r="12.5"/>
<circle cx="1037.9" cy="918.4" r="12.5"/>
<circle cx="1039.1" cy="995.3" r="12.5"/>
<circle cx="1040.2" cy="1187.1" r="12.5"/>
<circle cx="1041.4" cy="913.6" r="12.5"/>
<circle cx="1042.5" cy="750.1" r="12.5"/>
<circle cx="1043.7" cy="511.1" r="12.5"/>
<circle cx="1044.8" cy="1024.5" r="12.5"/>
<circle cx="1046.0" cy="814.7" r="12.5"/>
<circle cx="1047.1" cy="813.8" r="12.5"/>
<circle cx="1048.3" cy="664.9" r="12.5"/>
<circle cx="1049.5" cy="956.8" r="12.5"/>
<circle cx="1050.6" cy="552.3" r="12.5"/>
<circle cx="1051.8" cy="850.1" r="12.5"/>
<circle cx="1052.9" cy="852.6" r="12.5"/>
<circle cx="1054.1" cy="883.3" r="12.5"/>
<circle cx="1055.2" cy="1051.7" r="12.5"/>
<circle cx="1056.9" cy="490.6" r="12.5"/>
<circle cx="1057.5" cy="805.6" r="12.5"/>
<circle cx="1058.7" cy="838.5" r="12.5"/>
<circle cx="1059.9" cy="966.4" r="12.5"/>
<circle cx="1061.0" cy="586.9" r="12.5"/>
<circle cx="1062.2" cy="778.3" r="12.5"/>
<circle cx="1063.3" cy="838.0" r="12.5"/>
<circle cx="1064.5" cy="987.3" r="12.5"/>
<circle cx="1065.6" cy="688.0" r="12.5"/>
<circle cx="1066.8" cy="958.7" r="12.5"/>
<circle cx="1067.9" cy="886.9" r="12.5"/>
<circle cx="1069.1" cy="587.2" r="12.5"/>
<circle cx="1070.3" cy="584.1" r="12.5"/>
<circle cx="1071.0" cy="467.6" r="12.5"/>
<circle cx="1072.6" cy="581.1" r="12.5"/>
<circle cx="1073.7" cy="815.4" r="12.5"/>
<circle cx="1074.9" cy="821.8" r="12.5"/>
<circle cx="1076.0" cy="913.1" r="12.5"/>
<circle cx="1077.2" cy="923.4" r="12.5"/>
<circle cx="1078.3" cy="684.9" r="12.5"/>
<circle cx="1079.5" cy="957.6" r="12.5"/>
<circle cx="1080.7" cy="914.7" r="12.5"/>
<circle cx="1081.8" cy="842.5" r="12.5"/>
<circle cx="1083.0" cy="839.5" r="12.5"/>
<circle cx="1084.1" cy="566.3" r="12.5"/>
<circle cx="1085.1" cy="348.4" r="12.5"/>
<circle cx="1086.4" cy="812.2" r="12.5"/>
<circle cx="1087.6" cy="595.0" r="12.5"/>
<circle cx="1088.7" cy="568.0" r="12.5"/>
<circle cx="1089.9" cy="686.9" r="12.5"/>
<circle cx="1091.1" cy="772.1" r="12.5"/>
<circle cx="1092.2" cy="743.3" r="12.5"/>
<circle cx="1093.4" cy="700.2" r="12.5"/>
<circle cx="1094.5" cy="615.7" r="12.5"/>
<circle cx="1095.7" cy="802.9" r="12.5"/>
<circle cx="1096.8" cy="649.2" r="12.5"/>
<circle cx="1098.0" cy="565.6" r="12.5"/>
<circle cx="1099.1" cy="800.3" r="12.5"/>
<circle cx="1100.3" cy="1032.9" r="12.5"/>
<circle cx="1101.5" cy="729.0" r="12.5"/>
<circle cx="1102.6" cy="630.7" r="12.5"/>
<circle cx="1103.8" cy="1036.4" r="12.5"/>
<circle cx="1104.9" cy="1086.8" r="12.5"/>
<circle cx="1106.1" cy="754.9" r="12.5"/>
<circle cx="1107.2" cy="779.0" r="12.5"/>
<circle cx="1108.1" cy="420.2" r="12.5"/>
<circle cx="1109.5" cy="861.0" r="12.5"/>
<circle cx="1110.7" cy="1215.3" r="12.5"/>
<circle cx="1111.9" cy="843.3" r="12.5"/>
<circle cx="1113.0" cy="990.3" r="12.5"/>
<circle cx="1114.2" cy="903.0" r="12.5"/>
<circle cx="1115.3" cy="546.0" r="12.5"/>
<circle cx="1116.5" cy="641.6" r="12.5"/>
<circle cx="1117.1" cy="270.3" r="12.5"/>
<circle cx="1118.8" cy="624.5" r="12.5"/>
<circle cx="1119.9" cy="889.3" r="12.5"/>
<circle cx="1121.1" cy="827.5" r="12.5"/>
<circle cx="1122.2" cy="1104.6" r="12.5"/>
<circle cx="1123.4" cy="769.0" r="12.5"/>
<circle cx="1124.6" cy="871.7" r="12.5"/>
<circle cx="1125.7" cy="826.8" r="12.5"/>
<circle cx="1126.9" cy="849.4" r="12.5"/>
<circle cx="1128.0" cy="1177.8" r="12.5"/>
<circle cx="1129.2" cy="884.3" r="12.5"/>
<circle cx="1130.3" cy="1078.9" r="12.5"/>
<circle cx="1131.5" cy="1058.3" r="12.5"/>
<circle cx="1132.6" cy="744.5" r="12.5"/>
<circle cx="1133.8" cy="964.1" r="12.5"/>
<circle cx="1135.0" cy="1241.3" r="12.5"/>
<circle cx="1136.1" cy="791.1" r="12.5"/>
<circle cx="1137.3" cy="878.2" r="12.5"/>
<circle cx="1138.4" cy="892.2" r="12.5"/>
<circle cx="1139.6" cy="875.4" r="12.5"/>
<circle cx="1140.7" cy="794.1" r="12.5"/>
<circle cx="1141.9" cy="1128.3" r="12.5"/>
<circle cx="1143.0" cy="844.3" r="12.5"/>
<circle cx="1144.2" cy="1015.8" r="12.5"/>
<circle cx="1145.4" cy="1160.6" r="12.5"/>
<circle cx="1146.5" cy="1018.4" r="12.5"/>
<circle cx="1147.7" cy="1077.5" r="12.5"/>
<circle cx="1148.8" cy="1132.1" r="12.5"/>
<circle cx="1150.0" cy="1086.3" r="12.5"/>
<circle cx="1151.1" cy="1162.1" r="12.5"/>
<circle cx="1152.3" cy="662.8" r="12.5"/>
<circle cx="1153.4" cy="1182.1" r="12.5"/>
<circle cx="1154.6" cy="908.1" r="12.5"/>
<circle cx="1155.8" cy="616.5" r="12.5"/>
<circle cx="1156.9" cy="777.2" r="12.5"/>
<circle cx="1158.1" cy="647.8" r="12.5"/>
<circle cx="1159.4" cy="199.8" r="12.5"/>
<circle cx="1160.4" cy="879.9" r="12.5"/>
<circle cx="1161.5" cy="639.4" r="12.5"/>
<circle cx="1162.7" cy="707.8" r="12.5"/>
<circle cx="1163.8" cy="930.4" r="12.5"/>
<circle cx="1165.0" cy="906.7" r="12.5"/>
<circle cx="1166.2" cy="733.1" r="12.5"/>
<circle cx="1167.3" cy="825.4" r="12.5"/>
<circle cx="1168.5" cy="839.1" r="12.5"/>
<circle cx="1169.6" cy="871.7" r="12.5"/>
<circle cx="1170.8" cy="849.6" r="12.5"/>
<circle cx="1171.9" cy="798.5" r="12.5"/>
<circle cx="1173.1" cy="972.7" r="12.5"/>
<circle cx="1174.2" cy="572.7" r="12.5"/>
<circle cx="1175.4" cy="733.5" r="12.5"/>
<circle cx="1176.6" cy="837.6" r="12.5"/>
<circle cx="1177.7" cy="744.8" r="12.5"/>
<circle cx="1178.9" cy="715.1" r="12.5"/>
<circle cx="1180.0" cy="729.3" r="12.5"/>
<circle cx="1181.2" cy="827.7" r="12.5"/>
<circle cx="1182.3" cy="999.3" r="12.5"/>
<circle cx="1183.5" cy="748.6" r="12.5"/>
<circle cx="1184.6" cy="730.5" r="12.5"/>
<circle cx="1185.8" cy="826.7" r="12.5"/>
<circle cx="1187.0" cy="719.5" r="12.5"/>
<circle cx="1188.1" cy="488.3" r="12.5"/>
<circle cx="1189.3" cy="788.1" r="12.5"/>
<circle cx="1190.4" cy="666.1" r="12.5"/>
<circle cx="1191.4" cy="385.6" r="12.5"/>
<circle cx="1192.7" cy="637.4" r="12.5"/>
<circle cx="1193.9" cy="826.3" r="12.5"/>
<circle cx="1195.0" cy="730.8" r="12.5"/>
<circle cx="1196.2" cy="635.0" r="12.5"/>
<circle cx="1197.4" cy="445.0" r="12.5"/>
<circle cx="1198.5" cy="507.3" r="12.5"/>
<circle cx="1199.7" cy="739.8" r="12.5"/>
<circle cx="1200.8" cy="722.6" r="12.5"/>
<circle cx="1202.0" cy="815.8" r="12.5"/>
<circle cx="1202.9" cy="475.3" r="12.5"/>
<circle cx="1204.3" cy="787.6" r="12.5"/>
<circle cx="1205.4" cy="665.0" r="12.5"/>
<circle cx="1206.6" cy="563.1" r="12.5"/>
<circle cx="1207.8" cy="591.3" r="12.5"/>
<circle cx="1208.9" cy="734.8" r="12.5"/>
<circle cx="1210.1" cy="590.7" r="12.5"/>
<circle cx="1211.2" cy="899.1" r="12.5"/>
<circle cx="1212.4" cy="572.9" r="12.5"/>
<circle cx="1213.2" cy="334.4" r="12.5"/>
<circle cx="1214.7" cy="530.0" r="12.5"/>
<circle cx="1215.8" cy="774.6" r="12.5"/>
<circle cx="1217.0" cy="1208.0" r="12.5"/>
<circle cx="1218.2" cy="549.1" r="12.5"/>
<circle cx="1219.3" cy="1100.5" r="12.5"/>
<circle cx="1220.5" cy="673.0" r="12.5"/>
<circle cx="1221.6" cy="836.3" r="12.5"/>
<circle cx="1222.8" cy="808.5" r="12.5"/>
<circle cx="1223.9" cy="722.1" r="12.5"/>
<circle cx="1225.1" cy="586.6" r="12.5"/>
<circle cx="1226.2" cy="569.3" r="12.5"/>
<circle cx="1227.4" cy="1005.5" r="12.5"/>
<circle cx="1228.6" cy="1038.2" r="12.5"/>
<circle cx="1229.7" cy="1184.5" r="12.5"/>
<circle cx="1230.9" cy="627.9" r="12.5"/>
<circle cx="1232.0" cy="964.0" r="12.5"/>
<circle cx="1233.2" cy="872.9" r="12.5"/>
<circle cx="1234.3" cy="1020.5" r="12.5"/>
<circle cx="1235.5" cy="791.5" r="12.5"/>
<circle cx="1236.6" cy="997.7" r="12.5"/>
<circle cx="1237.8" cy="1027.5" r="12.5"/>
<circle cx="1239.0" cy="975.1" r="12.5"/>
<circle cx="1240.1" cy="1109.7" r="12.5"/>
<circle cx="1241.3" cy="831.9" r="12.5"/>
<circle cx="1242.4" cy="1118.6" r="12.5"/>
<circle cx="1243.6" cy="738.5" r="12.5"/>
<circle cx="1244.7" cy="1123.9" r="12.5"/>
<circle cx="1245.9" cy="474.5" r="12.5"/>
<circle cx="1247.0" cy="845.9" r="12.5"/>
<circle cx="1248.2" cy="704.8" r="12.5"/>
<circle cx="1249.4" cy="839.0" r="12.5"/>
<circle cx="1250.5" cy="1013.2" r="12.5"/>
<circle cx="1251.6" cy="383.0" r="12.5"/>
<circle cx="1252.8" cy="960.8" r="12.5"/>
<circle cx="1254.0" cy="859.0" r="12.5"/>
<circle cx="1255.1" cy="1121.5" r="12.5"/>
<circle cx="1256.3" cy="604.9" r="12.5"/>
<circle cx="1258.0" cy="1341.3" r="12.5"/>
<circle cx="1258.6" cy="694.9" r="12.5"/>
<circle cx="1259.8" cy="1079.8" r="12.5"/>
<circle cx="1260.9" cy="889.5" r="12.5"/>
<circle cx="1262.1" cy="519.1" r="12.5"/>
<circle cx="1263.2" cy="886.6" r="12.5"/>
<circle cx="1264.4" cy="633.2" r="12.5"/>
<circle cx="1265.5" cy="1066.0" r="12.5"/>
<circle cx="1266.7" cy="1016.5" r="12.5"/>
<circle cx="1267.8" cy="730.2" r="12.5"/>
<circle cx="1269.0" cy="1045.3" r="12.5"/>
<circle cx="1270.2" cy="684.1" r="12.5"/>
<circle cx="1271.3" cy="979.8" r="12.5"/>
<circle cx="1272.5" cy="931.1" r="12.5"/>
<circle cx="1273.6" cy="807.5" r="12.5"/>
<circle cx="1274.8" cy="604.4" r="12.5"/>
<circle cx="1275.9" cy="779.6" r="12.5"/>
<circle cx="1277.1" cy="503.8" r="12.5"/>
<circle cx="1278.2" cy="724.3" r="12.5"/>
<circle cx="1279.4" cy="536.5" r="12.5"/>
<circle cx="1280.6" cy="1023.4" r="12.5"/>
<circle cx="1281.7" cy="655.5" r="12.5"/>
<circle cx="1282.9" cy="483.3" r="12.5"/>
<circle cx="1284.0" cy="925.4" r="12.5"/>
<circle cx="1284.9" cy="489.4" r="12.5"/>
<circle cx="1286.3" cy="895.8" r="12.5"/>
<circle cx="1287.5" cy="749.4" r="12.5"/>
<circle cx="1288.6" cy="1165.5" r="12.5"/>
<circle cx="1289.8" cy="973.7" r="12.5"/>
<circle cx="1291.0" cy="867.2" r="12.5"/>
<circle cx="1292.1" cy="745.2" r="12.5"/>
<circle cx="1293.3" cy="462.1" r="12.5"/>
<circle cx="1294.4" cy="953.4" r="12.5"/>
<circle cx="1295.6" cy="1034.2" r="12.5"/>
<circle cx="1296.7" cy="776.7" r="12.5"/>
<circle cx="1297.9" cy="640.7" r="12.5"/>
<circle cx="1299.0" cy="874.8" r="12.5"/>
<circle cx="1300.2" cy="615.8" r="12.5"/>
<circle cx="1301.4" cy="883.7" r="12.5"/>
<circle cx="1302.5" cy="1010.6" r="12.5"/>
<circle cx="1303.7" cy="1123.6" r="12.5"/>
<circle cx="1304.8" cy="925.4" r="12.5"/>
<circle cx="1306.0" cy="912.2" r="12.5"/>
<circle cx="1307.1" cy="990.7" r="12.5"/>
<circle cx="1308.3" cy="1094.0" r="12.5"/>
<circle cx="1309.4" cy="803.5" r="12.5"/>
<circle cx="1310.6" cy="647.1" r="12.5"/>
<circle cx="1311.8" cy="715.6" r="12.5"/>
<circle cx="1312.9" cy="636.4" r="12.5"/>
<circle cx="1314.4" cy="417.6" r="12.5"/>
<circle cx="1315.2" cy="686.5" r="12.5"/>
<circle cx="1316.4" cy="814.6" r="12.5"/>
<circle cx="1317.5" cy="903.6" r="12.5"/>
<circle cx="1318.7" cy="869.4" r="12.5"/>
<circle cx="1319.8" cy="853.9" r="12.5"/>
<circle cx="1321.0" cy="774.8" r="12.5"/>
<circle cx="1322.2" cy="904.9" r="12.5"/>
<circle cx="1323.3" cy="969.4" r="12.5"/>
<circle cx="1324.5" cy="953.2" r="12.5"/>
<circle cx="1325.6" cy="1067.9" r="12.5"/>
<circle cx="1326.8" cy="773.7" r="12.5"/>
<circle cx="1327.9" cy="777.8" r="12.5"/>
<circle cx="1329.1" cy="1097.7" r="12.5"/>
<circle cx="1330.2" cy="859.7" r="12.5"/>
<circle cx="1331.4" cy="895.2" r="12.5"/>
<circle cx="1332.6" cy="774.7" r="12.5"/>
<circle cx="1333.7" cy="993.6" r="12.5"/>
<circle cx="1334.9" cy="768.6" r="12.5"/>
<circle cx="1336.0" cy="662.8" r="12.5"/>
<circle cx="1337.2" cy="816.8" r="12.5"/>
<circle cx="1338.3" cy="762.4" r="12.5"/>
<circle cx="1339.5" cy="973.3" r="12.5"/>
<circle cx="1340.6" cy="776.9" r="12.5"/>
<circle cx="1341.8" cy="861.4" r="12.5"/>
<circle cx="1343.0" cy="794.5" r="12.5"/>
<circle cx="1344.1" cy="886.3" r="12.5"/>
<circle cx="1345.1" cy="1349.0" r="12.5"/>
<circle cx="1346.4" cy="715.7" r="12.5"/>
<circle cx="1347.6" cy="1007.3" r="12.5"/>
<circle cx="1348.7" cy="598.5" r="12.5"/>
<circle cx="1349.9" cy="767.0" r="12.5"/>
<circle cx="1351.0" cy="715.1" r="12.5"/>
<circle cx="1352.2" cy="952.0" r="12.5"/>
<circle cx="1353.3" cy="853.1" r="12.5"/>
<circle cx="1354.5" cy="931.6" r="12.5"/>
<circle cx="1355.7" cy="795.1" r="12.5"/>
<circle cx="1356.8" cy="731.0" r="12.5"/>
<circle cx="1358.0" cy="664.1" r="12.5"/>
<circle cx="1359.1" cy="799.3" r="12.5"/>
<circle cx="1360.3" cy="771.2" r="12.5"/>
<circle cx="1361.4" cy="911.8" r="12.5"/>
<circle cx="1362.6" cy="924.1" r="12.5"/>
<circle cx="1363.7" cy="1033.3" r="12.5"/>
<circle cx="1364.9" cy="855.2" r="12.5"/>
<circle cx="1366.1" cy="746.1" r="12.5"/>
<circle cx="1367.2" cy="691.3" r="12.5"/>
<circle cx="1368.4" cy="889.3" r="12.5"/>
<circle cx="1369.5" cy="948.9" r="12.5"/>
<circle cx="1370.7" cy="1176.4" r="12.5"/>
<circle cx="1371.8" cy="922.7" r="12.5"/>
<circle cx="1373.0" cy="1160.1" r="12.5"/>
<circle cx="1374.1" cy="1166.6" r="12.5"/>
<circle cx="1375.3" cy="713.2" r="12.5"/>
<circle cx="1376.5" cy="1080.3" r="12.5"/>
<circle cx="1377.6" cy="1066.0" r="12.5"/>
<circle cx="1378.8" cy="1092.9" r="12.5"/>
<circle cx="1379.9" cy="864.4" r="12.5"/>
<circle cx="1381.1" cy="1021.0" r="12.5"/>
<circle cx="1382.2" cy="768.3" r="12.5"/>
<circle cx="1383.4" cy="824.9" r="12.5"/>
<circle cx="1384.5" cy="832.9" r="12.5"/>
<circle cx="1385.7" cy="1121.3" r="12.5"/>
<circle cx="1386.9" cy="781.6" r="12.5"/>
<circle cx="1388.0" cy="969.9" r="12.5"/>
<circle cx="1389.2" cy="814.3" r="12.5"/>
<circle cx="1390.3" cy="674.6" r="12.5"/>
<circle cx="1391.5" cy="828.3" r="12.5"/>
<circle cx="1392.6" cy="895.9" r="12.5"/>
<circle cx="1393.8" cy="654.3" r="12.5"/>
<circle cx="1394.9" cy="883.1" r="12.5"/>
<circle cx="1396.4" cy="430.4" r="12.5"/>
<circle cx="1397.3" cy="641.6" r="12.5"/>
<circle cx="1398.4" cy="620.3" r="12.5"/>
<circle cx="1399.6" cy="780.7" r="12.5"/>
<circle cx="1400.2" cy="413.8" r="12.5"/>
<circle cx="1401.9" cy="700.0" r="12.5"/>
<circle cx="1403.0" cy="595.1" r="12.5"/>
<circle cx="1404.2" cy="518.2" r="12.5"/>
<circle cx="1405.3" cy="750.6" r="12.5"/>
<circle cx="1406.5" cy="798.4" r="12.5"/>
<circle cx="1407.7" cy="682.4" r="12.5"/>
<circle cx="1408.8" cy="801.7" r="12.5"/>
<circle cx="1410.0" cy="548.5" r="12.5"/>
<circle cx="1411.1" cy="851.8" r="12.5"/>
<circle cx="1412.3" cy="860.8" r="12.5"/>
<circle cx="1413.0" cy="1284.9" r="12.5"/>
<circle cx="1414.6" cy="841.3" r="12.5"/>
<circle cx="1415.7" cy="693.9" r="12.5"/>
<circle cx="1416.9" cy="816.2" r="12.5"/>
<circle cx="1418.1" cy="830.0" r="12.5"/>
<circle cx="1419.2" cy="989.7" r="12.5"/>
<circle cx="1420.4" cy="861.5" r="12.5"/>
<circle cx="1421.5" cy="857.8" r="12.5"/>
<circle cx="1422.7" cy="684.1" r="12.5"/>
<circle cx="1423.8" cy="959.1" r="12.5"/>
<circle cx="1425.0" cy="1005.8" r="12.5"/>
<circle cx="1426.1" cy="726.0" r="12.5"/>
<circle cx="1427.3" cy="920.3" r="12.5"/>
<circle cx="1428.5" cy="861.9" r="12.5"/>
<circle cx="1429.6" cy="799.8" r="12.5"/>
<circle cx="1430.8" cy="608.8" r="12.5"/>
<circle cx="1432.2" cy="345.9" r="12.5"/>
<circle cx="1433.5" cy="452.2" r="12.5"/>
<circle cx="1434.2" cy="1098.3" r="12.5"/>
<circle cx="1435.4" cy="527.9" r="12.5"/>
<circle cx="1436.5" cy="861.3" r="12.5"/>
<circle cx="1437.7" cy="742.1" r="12.5"/>
<circle cx="1438.6" cy="1215.7" r="12.5"/>
<circle cx="1440.0" cy="994.6" r="12.5"/>
<circle cx="1441.2" cy="730.0" r="12.5"/>
<circle cx="1442.3" cy="804.3" r="12.5"/>
<circle cx="1443.5" cy="907.3" r="12.5"/>
<circle cx="1444.6" cy="876.2" r="12.5"/>
<circle cx="1445.8" cy="708.3" r="12.5"/>
<circle cx="1446.9" cy="918.7" r="12.5"/>
<circle cx="1448.1" cy="869.7" r="12.5"/>
<circle cx="1448.9" cy="421.5" r="12.5"/>
<circle cx="1450.4" cy="969.7" r="12.5"/>
<circle cx="1451.6" cy="727.4" r="12.5"/>
<circle cx="1452.7" cy="808.5" r="12.5"/>
<circle cx="1453.9" cy="763.2" r="12.5"/>
<circle cx="1455.0" cy="686.9" r="12.5"/>
<circle cx="1456.2" cy="878.3" r="12.5"/>
<circle cx="1457.3" cy="904.1" r="12.5"/>
<circle cx="1458.5" cy="1064.7" r="12.5"/>
<circle cx="1459.7" cy="773.8" r="12.5"/>
<circle cx="1460.8" cy="893.2" r="12.5"/>
<circle cx="1462.0" cy="1017.5" r="12.5"/>
<circle cx="1463.1" cy="801.0" r="12.5"/>
<circle cx="1464.3" cy="827.4" r="12.5"/>
<circle cx="1465.4" cy="839.2" r="12.5"/>
<circle cx="1466.6" cy="703.9" r="12.5"/>
<circle cx="1467.7" cy="657.4" r="12.5"/>
<circle cx="1468.9" cy="1015.3" r="12.5"/>
<circle cx="1470.1" cy="864.1" r="12.5"/>
<circle cx="1471.2" cy="819.6" r="12.5"/>
<circle cx="1472.4" cy="635.8" r="12.5"/>
<circle cx="1473.5" cy="865.8" r="12.5"/>
<circle cx="1474.7" cy="1044.6" r="12.5"/>
<circle cx="1475.8" cy="650.3" r="12.5"/>
<circle cx="1477.0" cy="690.9" r="12.5"/>
<circle cx="1478.1" cy="1031.5" r="12.5"/>
<circle cx="1479.3" cy="1075.3" r="12.5"/>
<circle cx="1480.5" cy="1094.1" r="12.5"/>
<circle cx="1481.6" cy="750.0" r="12.5"/>
<circle cx="1482.8" cy="953.1" r="12.5"/>
<circle cx="1483.9" cy="726.2" r="12.5"/>
<circle cx="1485.1" cy="946.9" r="12.5"/>
<circle cx="1486.2" cy="796.0" r="12.5"/>
<circle cx="1487.4" cy="898.7" r="12.5"/>
<circle cx="1488.6" cy="462.5" r="12.5"/>
<circle cx="1489.7" cy="1087.3" r="12.5"/>
<circle cx="1490.9" cy="936.4" r="12.5"/>
<circle cx="1492.0" cy="836.3" r="12.5"/>
<circle cx="1493.2" cy="893.7" r="12.5"/>
<circle cx="1494.3" cy="927.2" r="12.5"/>
<circle cx="1495.5" cy="794.1" r="12.5"/>
<circle cx="1496.6" cy="920.3" r="12.5"/>
<circle cx="1497.8" cy="975.6" r="12.5"/>
<circle cx="1498.9" cy="1126.8" r="12.5"/>
<circle cx="1500.1" cy="556.4" r="12.5"/>
<circle cx="1501.3" cy="674.3" r="12.5"/>
<circle cx="1502.4" cy="664.9" r="12.5"/>
<circle cx="1503.6" cy="1022.9" r="12.5"/>
<circle cx="1504.7" cy="1210.9" r="12.5"/>
<circle cx="1505.9" cy="915.1" r="12.5"/>
<circle cx="1507.0" cy="896.1" r="12.5"/>
<circle cx="1507.8" cy="476.6" r="12.5"/>
<circle cx="1509.3" cy="1057.5" r="12.5"/>
<circle cx="1510.5" cy="510.9" r="12.5"/>
<circle cx="1511.6" cy="1242.6" r="12.5"/>
<circle cx="1512.8" cy="820.5" r="12.5"/>
<circle cx="1514.0" cy="388.3" r="12.5"/>
<circle cx="1515.1" cy="875.7" r="12.5"/>
<circle cx="1516.3" cy="757.4" r="12.5"/>
<circle cx="1517.4" cy="757.0" r="12.5"/>
<circle cx="1518.6" cy="894.5" r="12.5"/>
<circle cx="1519.7" cy="735.2" r="12.5"/>
<circle cx="1520.9" cy="1021.4" r="12.5"/>
<circle cx="1522.1" cy="831.4" r="12.5"/>
<circle cx="1523.2" cy="906.6" r="12.5"/>
<circle cx="1524.4" cy="1208.1" r="12.5"/>
<circle cx="1525.5" cy="768.9" r="12.5"/>
<circle cx="1526.7" cy="999.6" r="12.5"/>
<circle cx="1527.8" cy="712.8" r="12.5"/>
<circle cx="1529.0" cy="1061.8" r="12.5"/>
<circle cx="1530.1" cy="1023.7" r="12.5"/>
<circle cx="1531.3" cy="895.3" r="12.5"/>
<circle cx="1532.1" cy="476.6" r="12.5"/>
<circle cx="1533.4" cy="1268.2" r="12.5"/>
<circle cx="1534.8" cy="1045.0" r="12.5"/>
<circle cx="1535.9" cy="1135.8" r="12.5"/>
<circle cx="1537.1" cy="1105.6" r="12.5"/>
<circle cx="1538.2" cy="889.3" r="12.5"/>
<circle cx="1539.4" cy="887.4" r="12.5"/>
<circle cx="1540.5" cy="1073.7" r="12.5"/>
<circle cx="1541.7" cy="653.3" r="12.5"/>
<circle cx="1542.9" cy="803.4" r="12.5"/>
<circle cx="1544.0" cy="989.3" r="12.5"/>
<circle cx="1545.2" cy="1005.4" r="12.5"/>
<circle cx="1546.3" cy="1181.7" r="12.5"/>
<circle cx="1547.5" cy="1173.2" r="12.5"/>
<circle cx="1548.6" cy="968.4" r="12.5"/>
<circle cx="1549.8" cy="989.8" r="12.5"/>
<circle cx="1550.9" cy="689.8" r="12.5"/>
<circle cx="1552.1" cy="884.3" r="12.5"/>
<circle cx="1553.3" cy="956.8" r="12.5"/>
<circle cx="1554.4" cy="873.8" r="12.5"/>
<circle cx="1555.6" cy="920.7" r="12.5"/>
<circle cx="1557.9" cy="997.9" r="12.5"/>
<circle cx="1559.0" cy="732.9" r="12.5"/>
<circle cx="1560.2" cy="795.6" r="12.5"/>
<circle cx="1561.3" cy="614.5" r="12.5"/>
<circle cx="1562.5" cy="1074.2" r="12.5"/>
<circle cx="1563.7" cy="714.7" r="12.5"/>
<circle cx="1564.8" cy="620.6" r="12.5"/>
<circle cx="1566.0" cy="1012.0" r="12.5"/>
<circle cx="1567.1" cy="841.5" r="12.5"/>
<circle cx="1568.0" cy="361.3" r="12.5"/>
<circle cx="1569.4" cy="1032.1" r="12.5"/>
<circle cx="1570.6" cy="804.9" r="12.5"/>
<circle cx="1571.7" cy="1178.8" r="12.5"/>
<circle cx="1572.9" cy="979.1" r="12.5"/>
<circle cx="1574.1" cy="893.8" r="12.5"/>
<circle cx="1575.2" cy="888.1" r="12.5"/>
<circle cx="1576.4" cy="828.2" r="12.5"/>
<circle cx="1577.5" cy="999.6" r="12.5"/>
<circle cx="1578.7" cy="1162.9" r="12.5"/>
<circle cx="1579.8" cy="795.1" r="12.5"/>
<circle cx="1581.0" cy="679.8" r="12.5"/>
<circle cx="1582.1" cy="961.3" r="12.5"/>
<circle cx="1583.3" cy="1036.5" r="12.5"/>
<circle cx="1584.5" cy="622.7" r="12.5"/>
<circle cx="1585.6" cy="737.7" r="12.5"/>
<circle cx="1586.8" cy="679.0" r="12.5"/>
<circle cx="1587.9" cy="939.0" r="12.5"/>
<circle cx="1589.1" cy="927.1" r="12.5"/>
<circle cx="1590.2" cy="712.0" r="12.5"/>
<circle cx="1591.4" cy="648.2" r="12.5"/>
<circle cx="1592.5" cy="953.9" r="12.5"/>
<circle cx="1593.6" cy="281.8" r="12.5"/>
<circle cx="1594.8" cy="526.1" r="12.5"/>
<circle cx="1596.0" cy="940.9" r="12.5"/>
<circle cx="1597.2" cy="803.9" r="12.5"/>
<circle cx="1598.3" cy="1144.9" r="12.5"/>
<circle cx="1599.5" cy="998.2" r="12.5"/>
<circle cx="1600.6" cy="735.3" r="12.5"/>
<circle cx="1601.3" cy="1308.0" r="12.5"/>
<circle cx="1602.9" cy="781.9" r="12.5"/>
<circle cx="1604.1" cy="787.6" r="12.5"/>
<circle cx="1605.2" cy="710.6" r="12.5"/>
<circle cx="1606.4" cy="852.1" r="12.5"/>
<circle cx="1607.6" cy="996.7" r="12.5"/>
<circle cx="1608.7" cy="598.4" r="12.5"/>
<circle cx="1609.9" cy="799.4" r="12.5"/>
<circle cx="1611.0" cy="1080.9" r="12.5"/>
<circle cx="1612.2" cy="964.1" r="12.5"/>
<circle cx="1613.3" cy="709.2" r="12.5"/>
<circle cx="1614.5" cy="714.9" r="12.5"/>
<circle cx="1615.6" cy="709.0" r="12.5"/>
<circle cx="1616.7" cy="445.8" r="12.5"/>
<circle cx="1618.0" cy="600.9" r="12.5"/>
<circle cx="1619.1" cy="1046.6" r="12.5"/>
<circle cx="1620.3" cy="868.5" r="12.5"/>
<circle cx="1621.8" cy="376.6" r="12.5"/>
<circle cx="1622.6" cy="739.9" r="12.5"/>
<circle cx="1623.7" cy="626.2" r="12.5"/>
<circle cx="1624.9" cy="783.4" r="12.5"/>
<circle cx="1626.0" cy="760.6" r="12.5"/>
<circle cx="1626.9" cy="1224.7" r="12.5"/>
<circle cx="1628.4" cy="1119.9" r="12.5"/>
<circle cx="1629.5" cy="765.8" r="12.5"/>
<circle cx="1630.7" cy="860.5" r="12.5"/>
<circle cx="1631.8" cy="1013.2" r="12.5"/>
<circle cx="1633.0" cy="946.9" r="12.5"/>
<circle cx="1634.1" cy="795.3" r="12.5"/>
<circle cx="1635.3" cy="513.7" r="12.5"/>
<circle cx="1636.4" cy="1055.1" r="12.5"/>
<circle cx="1637.6" cy="922.6" r="12.5"/>
<circle cx="1638.5" cy="1224.7" r="12.5"/>
<circle cx="1639.9" cy="751.7" r="12.5"/>
<circle cx="1641.1" cy="809.2" r="12.5"/>
<circle cx="1642.2" cy="669.5" r="12.5"/>
<circle cx="1643.4" cy="681.4" r="12.5"/>
<circle cx="1644.5" cy="612.5" r="12.5"/>
<circle cx="1645.7" cy="928.7" r="12.5"/>
<circle cx="1646.8" cy="936.2" r="12.5"/>
<circle cx="1648.0" cy="880.7" r="12.5"/>
<circle cx="1649.2" cy="972.0" r="12.5"/>
<circle cx="1650.0" cy="1445.7" r="12.5"/>
<circle cx="1651.5" cy="939.2" r="12.5"/>
<circle cx="1652.6" cy="871.5" r="12.5"/>
<circle cx="1653.8" cy="699.6" r="12.5"/>
<circle cx="1654.9" cy="952.7" r="12.5"/>
<circle cx="1656.1" cy="1051.8" r="12.5"/>
<circle cx="1657.2" cy="957.8" r="12.5"/>
<circle cx="1658.4" cy="1058.5" r="12.5"/>
<circle cx="1659.6" cy="778.5" r="12.5"/>
<circle cx="1660.7" cy="692.5" r="12.5"/>
<circle cx="1661.9" cy="1062.7" r="12.5"/>
<circle cx="1663.0" cy="766.6" r="12.5"/>
<circle cx="1664.2" cy="906.6" r="12.5"/>
<circle cx="1665.3" cy="822.3" r="12.5"/>
<circle cx="1666.5" cy="863.2" r="12.5"/>
<circle cx="1667.6" cy="806.2" r="12.5"/>
<circle cx="1668.8" cy="766.6" r="12.5"/>
<circle cx="1670.0" cy="576.3" r="12.5"/>
<circle cx="1671.1" cy="1150.3" r="12.5"/>
<circle cx="1672.3" cy="885.7" r="12.5"/>
<circle cx="1673.4" cy="551.3" r="12.5"/>
<circle cx="1674.6" cy="687.2" r="12.5"/>
<circle cx="1675.7" cy="653.6" r="12.5"/>
<circle cx="1676.9" cy="714.8" r="12.5"/>
<circle cx="1678.0" cy="485.0" r="12.5"/>
<circle cx="1679.2" cy="926.0" r="12.5"/>
<circle cx="1680.4" cy="1086.7" r="12.5"/>
<circle cx="1681.5" cy="775.6" r="12.5"/>
<circle cx="1682.7" cy="933.5" r="12.5"/>
<circle cx="1683.3" cy="477.8" r="12.5"/>
<circle cx="1685.0" cy="899.5" r="12.5"/>
<circle cx="1686.1" cy="598.9" r="12.5"/>
<circle cx="1687.3" cy="988.8" r="12.5"/>
<circle cx="1688.4" cy="151.2" r="12.5"/>
<circle cx="1689.6" cy="533.3" r="12.5"/>
<circle cx="1690.8" cy="680.8" r="12.5"/>
<circle cx="1691.9" cy="716.7" r="12.5"/>
<circle cx="1693.1" cy="989.4" r="12.5"/>
<circle cx="1694.2" cy="803.1" r="12.5"/>
<circle cx="1695.4" cy="766.2" r="12.5"/>
<circle cx="1696.5" cy="650.3" r="12.5"/>
<circle cx="1697.7" cy="796.2" r="12.5"/>
<circle cx="1698.8" cy="788.1" r="12.5"/>
<circle cx="1700.0" cy="906.8" r="12.5"/>
<circle cx="1701.2" cy="1003.8" r="12.5"/>
<circle cx="1702.3" cy="905.1" r="12.5"/>
<circle cx="1703.5" cy="780.3" r="12.5"/>
<circle cx="1704.6" cy="750.2" r="12.5"/>
<circle cx="1705.8" cy="1050.9" r="12.5"/>
<circle cx="1706.9" cy="815.1" r="12.5"/>
<circle cx="1708.1" cy="788.8" r="12.5"/>
<circle cx="1709.2" cy="1087.0" r="12.5"/>
<circle cx="1710.4" cy="1056.8" r="12.5"/>
<circle cx="1711.6" cy="897.0" r="12.5"/>
<circle cx="1712.7" cy="785.3" r="12.5"/>
<circle cx="1713.9" cy="695.5" r="12.5"/>
<circle cx="1715.3" cy="442.0" r="12.5"/>
<circle cx="1716.2" cy="987.7" r="12.5"/>
<circle cx="1717.3" cy="731.0" r="12.5"/>
<circle cx="1718.5" cy="965.2" r="12.5"/>
<circle cx="1719.6" cy="665.1" r="12.5"/>
<circle cx="1720.8" cy="812.1" r="12.5"/>
<circle cx="1722.0" cy="867.2" r="12.5"/>
<circle cx="1723.0" cy="476.6" r="12.5"/>
<circle cx="1724.3" cy="824.7" r="12.5"/>
<circle cx="1725.4" cy="847.6" r="12.5"/>
<circle cx="1726.9" cy="462.5" r="12.5"/>
<circle cx="1727.7" cy="884.9" r="12.5"/>
<circle cx="1728.9" cy="643.3" r="12.5"/>
<circle cx="1730.0" cy="646.9" r="12.5"/>
<circle cx="1731.2" cy="803.5" r="12.5"/>
<circle cx="1732.4" cy="1122.3" r="12.5"/>
<circle cx="1733.3" cy="1350.2" r="12.5"/>
<circle cx="1734.7" cy="804.4" r="12.5"/>
<circle cx="1735.8" cy="670.2" r="12.5"/>
<circle cx="1737.0" cy="716.7" r="12.5"/>
<circle cx="1738.1" cy="830.7" r="12.5"/>
<circle cx="1739.3" cy="1030.5" r="12.5"/>
<circle cx="1740.4" cy="742.3" r="12.5"/>
<circle cx="1741.6" cy="939.1" r="12.5"/>
<circle cx="1742.8" cy="882.3" r="12.5"/>
<circle cx="1743.9" cy="796.6" r="12.5"/>
<circle cx="1745.1" cy="707.7" r="12.5"/>
<circle cx="1746.2" cy="845.4" r="12.5"/>
<circle cx="1747.4" cy="751.7" r="12.5"/>
<circle cx="1748.5" cy="964.6" r="12.5"/>
<circle cx="1749.7" cy="601.5" r="12.5"/>
<circle cx="1750.8" cy="1062.4" r="12.5"/>
<circle cx="1752.0" cy="1000.3" r="12.5"/>
<circle cx="1753.2" cy="966.6" r="12.5"/>
<circle cx="1754.3" cy="1109.8" r="12.5"/>
<circle cx="1755.5" cy="964.1" r="12.5"/>
<circle cx="1756.6" cy="595.6" r="12.5"/>
<circle cx="1757.8" cy="872.3" r="12.5"/>
<circle cx="1758.9" cy="938.2" r="12.5"/>
<circle cx="1760.1" cy="746.5" r="12.5"/>
<circle cx="1761.2" cy="676.3" r="12.5"/>
<circle cx="1762.4" cy="941.2" r="12.5"/>
<circle cx="1763.6" cy="954.2" r="12.5"/>
<circle cx="1764.7" cy="796.3" r="12.5"/>
<circle cx="1765.9" cy="819.7" r="12.5"/>
<circle cx="1767.0" cy="774.1" r="12.5"/>
<circle cx="1768.2" cy="753.3" r="12.5"/>
<circle cx="1769.3" cy="827.2" r="12.5"/>
<circle cx="1770.5" cy="1008.8" r="12.5"/>
<circle cx="1771.6" cy="583.8" r="12.5"/>
<circle cx="1772.8" cy="767.2" r="12.5"/>
<circle cx="1774.0" cy="1075.9" r="12.5"/>
<circle cx="1775.1" cy="870.1" r="12.5"/>
<circle cx="1776.3" cy="832.5" r="12.5"/>
<circle cx="1777.4" cy="950.7" r="12.5"/>
<circle cx="1778.1" cy="251.1" r="12.5"/>
<circle cx="1779.7" cy="647.1" r="12.5"/>
<circle cx="1780.9" cy="625.6" r="12.5"/>
<circle cx="1782.0" cy="563.5" r="12.5"/>
<circle cx="1783.2" cy="593.2" r="12.5"/>
<circle cx="1784.5" cy="1293.9" r="12.5"/>
<circle cx="1785.5" cy="856.9" r="12.5"/>
<circle cx="1786.7" cy="951.9" r="12.5"/>
<circle cx="1787.8" cy="733.5" r="12.5"/>
<circle cx="1789.0" cy="686.5" r="12.5"/>
<circle cx="1790.1" cy="870.6" r="12.5"/>
<circle cx="1791.3" cy="904.9" r="12.5"/>
<circle cx="1792.4" cy="840.3" r="12.5"/>
<circle cx="1793.6" cy="525.5" r="12.5"/>
<circle cx="1794.8" cy="716.8" r="12.5"/>
<circle cx="1795.9" cy="476.1" r="12.5"/>
<circle cx="1797.1" cy="857.9" r="12.5"/>
<circle cx="1798.2" cy="676.7" r="12.5"/>
<circle cx="1799.4" cy="710.1" r="12.5"/>
<circle cx="1800.5" cy="1061.5" r="12.5"/>
<circle cx="1801.2" cy="1240.1" r="12.5"/>
<circle cx="1802.8" cy="1028.7" r="12.5"/>
<circle cx="1804.0" cy="893.0" r="12.5"/>
<circle cx="1805.2" cy="855.9" r="12.5"/>
<circle cx="1806.3" cy="439.4" r="12.5"/>
<circle cx="1807.5" cy="825.8" r="12.5"/>
<circle cx="1808.6" cy="699.6" r="12.5"/>
<circle cx="1809.8" cy="793.0" r="12.5"/>
<circle cx="1810.9" cy="1107.4" r="12.5"/>
<circle cx="1812.1" cy="657.6" r="12.5"/>
<circle cx="1813.2" cy="690.6" r="12.5"/>
<circle cx="1814.4" cy="830.3" r="12.5"/>
<circle cx="1815.6" cy="957.7" r="12.5"/>
<circle cx="1816.7" cy="955.7" r="12.5"/>
<circle cx="1817.9" cy="656.2" r="12.5"/>
<circle cx="1819.0" cy="794.4" r="12.5"/>
<circle cx="1820.2" cy="773.5" r="12.5"/>
<circle cx="1821.3" cy="624.1" r="12.5"/>
<circle cx="1822.5" cy="823.1" r="12.5"/>
<circle cx="1823.6" cy="732.6" r="12.5"/>
<circle cx="1824.8" cy="964.2" r="12.5"/>
<circle cx="1825.9" cy="892.2" r="12.5"/>
<circle cx="1828.3" cy="692.1" r="12.5"/>
<circle cx="1829.4" cy="845.6" r="12.5"/>
<circle cx="1830.6" cy="1249.0" r="12.5"/>
<circle cx="1831.7" cy="787.0" r="12.5"/>
<circle cx="1832.9" cy="744.0" r="12.5"/>
<circle cx="1834.0" cy="773.4" r="12.5"/>
<circle cx="1835.2" cy="1027.6" r="12.5"/>
<circle cx="1836.3" cy="785.2" r="12.5"/>
<circle cx="1837.5" cy="591.5" r="12.5"/>
<circle cx="1838.7" cy="728.3" r="12.5"/>
<circle cx="1839.8" cy="988.6" r="12.5"/>
<circle cx="1841.0" cy="1168.5" r="12.5"/>
<circle cx="1842.1" cy="672.9" r="12.5"/>
<circle cx="1843.3" cy="789.8" r="12.5"/>
<circle cx="1844.4" cy="792.2" r="12.5"/>
<circle cx="1846.0" cy="461.2" r="12.5"/>
<circle cx="1847.3" cy="1213.2" r="12.5"/>
<circle cx="1847.9" cy="625.5" r="12.5"/>
<circle cx="1848.6" cy="311.3" r="12.5"/>
<circle cx="1851.4" cy="913.2" r="12.5"/>
<circle cx="1852.5" cy="831.8" r="12.5"/>
<circle cx="1853.7" cy="894.0" r="12.5"/>
<circle cx="1855.0" cy="415.1" r="12.5"/>
<circle cx="1856.0" cy="1171.8" r="12.5"/>
<circle cx="1857.1" cy="798.7" r="12.5"/>
<circle cx="1858.8" cy="1223.4" r="12.5"/>
<circle cx="1859.5" cy="965.3" r="12.5"/>
<circle cx="1860.6" cy="968.9" r="12.5"/>
<circle cx="1862.9" cy="730.7" r="12.5"/>
<circle cx="1864.1" cy="739.1" r="12.5"/>
<circle cx="1865.2" cy="1084.2" r="12.5"/>
<circle cx="1866.4" cy="959.4" r="12.5"/>
<circle cx="1867.5" cy="871.7" r="12.5"/>
<circle cx="1868.7" cy="665.5" r="12.5"/>
<circle cx="1869.9" cy="999.6" r="12.5"/>
<circle cx="1871.0" cy="944.5" r="12.5"/>
<circle cx="1872.2" cy="1178.5" r="12.5"/>
<circle cx="1873.3" cy="1091.0" r="12.5"/>
<circle cx="1874.5" cy="987.8" r="12.5"/>
<circle cx="1875.6" cy="907.9" r="12.5"/>
<circle cx="1876.8" cy="864.4" r="12.5"/>
<circle cx="1877.9" cy="755.2" r="12.5"/>
<circle cx="1879.1" cy="894.0" r="12.5"/>
<circle cx="1880.3" cy="875.2" r="12.5"/>
<circle cx="1881.4" cy="934.8" r="12.5"/>
<circle cx="1882.6" cy="994.5" r="12.5"/>
<circle cx="1883.7" cy="869.7" r="12.5"/>
<circle cx="1884.9" cy="723.8" r="12.5"/>
<circle cx="1886.0" cy="942.5" r="12.5"/>
<circle cx="1887.2" cy="1055.5" r="12.5"/>
<circle cx="1888.3" cy="659.2" r="12.5"/>
<circle cx="1889.5" cy="862.0" r="12.5"/>
<circle cx="1890.7" cy="879.2" r="12.5"/>
<circle cx="1891.8" cy="873.0" r="12.5"/>
<circle cx="1893.0" cy="864.7" r="12.5"/>
<circle cx="1894.1" cy="767.8" r="12.5"/>
<circle cx="1895.3" cy="760.2" r="12.5"/>
<circle cx="1896.4" cy="1053.0" r="12.5"/>
<circle cx="1897.6" cy="1055.5" r="12.5"/>
<circle cx="1898.7" cy="564.2" r="12.5"/>
<circle cx="1899.9" cy="393.4" r="12.5"/>
<circle cx="1901.1" cy="854.9" r="12.5"/>
<circle cx="1902.2" cy="669.3" r="12.5"/>
<circle cx="1903.4" cy="703.0" r="12.5"/>
<circle cx="1904.9" cy="458.6" r="12.5"/>
<circle cx="1905.7" cy="562.7" r="12.5"/>
<circle cx="1906.8" cy="862.6" r="12.5"/>
<circle cx="1908.0" cy="795.8" r="12.5"/>
<circle cx="1909.1" cy="720.7" r="12.5"/>
<circle cx="1910.3" cy="957.7" r="12.5"/>
<circle cx="1911.5" cy="1170.7" r="12.5"/>
<circle cx="1912.6" cy="1054.1" r="12.5"/>
<circle cx="1913.8" cy="1001.5" r="12.5"/>
<circle cx="1914.9" cy="747.3" r="12.5"/>
<circle cx="1916.1" cy="931.4" r="12.5"/>
<circle cx="1917.2" cy="816.8" r="12.5"/>
<circle cx="1918.4" cy="1022.0" r="12.5"/>
<circle cx="1919.5" cy="930.2" r="12.5"/>
<circle cx="1920.7" cy="826.8" r="12.5"/>
<circle cx="1921.9" cy="930.3" r="12.5"/>
<circle cx="1923.0" cy="723.7" r="12.5"/>
<circle cx="1924.2" cy="968.2" r="12.5"/>
<circle cx="1925.3" cy="1078.7" r="12.5"/>
<circle cx="1926.5" cy="779.0" r="12.5"/>
<circle cx="1927.6" cy="926.9" r="12.5"/>
<circle cx="1928.8" cy="577.3" r="12.5"/>
<circle cx="1929.9" cy="978.9" r="12.5"/>
<circle cx="1931.1" cy="968.1" r="12.5"/>
<circle cx="1932.3" cy="659.5" r="12.5"/>
<circle cx="1933.4" cy="1103.4" r="12.5"/>
<circle cx="1934.6" cy="851.6" r="12.5"/>
<circle cx="1935.7" cy="571.7" r="12.5"/>
<circle cx="1936.9" cy="624.7" r="12.5"/>
<circle cx="1938.2" cy="458.6" r="12.5"/>
<circle cx="1939.5" cy="424.0" r="12.5"/>
<circle cx="1940.3" cy="998.1" r="12.5"/>
<circle cx="1941.5" cy="808.2" r="12.5"/>
<circle cx="1942.7" cy="1039.4" r="12.5"/>
<circle cx="1943.8" cy="624.0" r="12.5"/>
<circle cx="1945.0" cy="843.3" r="12.5"/>
<circle cx="1946.1" cy="1022.6" r="12.5"/>
<circle cx="1947.3" cy="749.5" r="12.5"/>
<circle cx="1948.4" cy="973.0" r="12.5"/>
<circle cx="1949.6" cy="805.2" r="12.5"/>
<circle cx="1950.7" cy="928.6" r="12.5"/>
<circle cx="1951.9" cy="928.4" r="12.5"/>
<circle cx="1953.1" cy="1194.5" r="12.5"/>
<circle cx="1954.2" cy="675.8" r="12.5"/>
<circle cx="1955.4" cy="1010.0" r="12.5"/>
<circle cx="1956.5" cy="1088.1" r="12.5"/>
<circle cx="1957.7" cy="692.7" r="12.5"/>
<circle cx="1958.8" cy="894.6" r="12.5"/>
<circle cx="1960.0" cy="1205.5" r="12.5"/>
<circle cx="1961.1" cy="1051.7" r="12.5"/>
<circle cx="1962.3" cy="474.2" r="12.5"/>
<circle cx="1963.5" cy="824.0" r="12.5"/>
<circle cx="1964.6" cy="597.4" r="12.5"/>
<circle cx="1965.8" cy="909.3" r="12.5"/>
<circle cx="1966.9" cy="729.0" r="12.5"/>
<circle cx="1967.7" cy="340.8" r="12.5"/>
<circle cx="1969.2" cy="752.4" r="12.5"/>
<circle cx="1970.4" cy="711.5" r="12.5"/>
<circle cx="1971.5" cy="901.1" r="12.5"/>
<circle cx="1972.7" cy="775.3" r="12.5"/>
<circle cx="1973.9" cy="701.0" r="12.5"/>
<circle cx="1975.0" cy="807.1" r="12.5"/>
<circle cx="1976.2" cy="918.9" r="12.5"/>
<circle cx="1977.3" cy="703.5" r="12.5"/>
<circle cx="1978.5" cy="1023.8" r="12.5"/>
<circle cx="1979.2" cy="1255.4" r="12.5"/>
<circle cx="1980.8" cy="587.2" r="12.5"/>
<circle cx="1981.9" cy="910.2" r="12.5"/>
<circle cx="1983.1" cy="776.9" r="12.5"/>
<circle cx="1984.3" cy="1090.0" r="12.5"/>
<circle cx="1985.4" cy="738.5" r="12.5"/>
<circle cx="1986.6" cy="737.9" r="12.5"/>
<circle cx="1987.7" cy="634.3" r="12.5"/>
<circle cx="1988.9" cy="1156.4" r="12.5"/>
<circle cx="1990.0" cy="955.8" r="12.5"/>
<circle cx="1991.2" cy="668.2" r="12.5"/>
<circle cx="1992.3" cy="796.7" r="12.5"/>
<circle cx="1993.5" cy="694.1" r="12.5"/>
<circle cx="1994.7" cy="1100.6" r="12.5"/>
<circle cx="1995.9" cy="348.4" r="12.5"/>
<circle cx="1997.0" cy="925.9" r="12.5"/>
<circle cx="1998.1" cy="545.6" r="12.5"/>
<circle cx="1999.3" cy="887.3" r="12.5"/>
<circle cx="2000.4" cy="996.0" r="12.5"/>
<circle cx="2001.6" cy="850.8" r="12.5"/>
<circle cx="2002.7" cy="926.0" r="12.5"/>
<circle cx="2003.9" cy="823.6" r="12.5"/>
<circle cx="2005.1" cy="883.1" r="12.5"/>
<circle cx="2006.2" cy="885.6" r="12.5"/>
<circle cx="2007.4" cy="733.3" r="12.5"/>
<circle cx="2008.5" cy="918.2" r="12.5"/>
<circle cx="2009.7" cy="887.0" r="12.5"/>
<circle cx="2010.8" cy="853.7" r="12.5"/>
<circle cx="2012.0" cy="741.4" r="12.5"/>
<circle cx="2013.1" cy="684.0" r="12.5"/>
<circle cx="2014.3" cy="901.0" r="12.5"/>
<circle cx="2015.5" cy="993.5" r="12.5"/>
<circle cx="2016.6" cy="515.4" r="12.5"/>
<circle cx="2017.8" cy="774.0" r="12.5"/>
<circle cx="2018.9" cy="1071.5" r="12.5"/>
<circle cx="2020.1" cy="1004.8" r="12.5"/>
<circle cx="2021.2" cy="736.5" r="12.5"/>
<circle cx="2022.4" cy="1066.6" r="12.5"/>
<circle cx="2023.5" cy="686.3" r="12.5"/>
<circle cx="2024.7" cy="722.9" r="12.5"/>
<circle cx="2025.9" cy="1155.5" r="12.5"/>
<circle cx="2027.0" cy="779.5" r="12.5"/>
<circle cx="2028.2" cy="809.6" r="12.5"/>
<circle cx="2029.3" cy="595.4" r="12.5"/>
<circle cx="2030.5" cy="679.8" r="12.5"/>
<circle cx="2031.6" cy="651.9" r="12.5"/>
<circle cx="2032.8" cy="817.1" r="12.5"/>
<circle cx="2033.9" cy="560.9" r="12.5"/>
<circle cx="2035.1" cy="1004.5" r="12.5"/>
<circle cx="2036.3" cy="772.5" r="12.5"/>
<circle cx="2037.4" cy="724.7" r="12.5"/>
<circle cx="2038.6" cy="720.4" r="12.5"/>
<circle cx="2039.7" cy="946.4" r="12.5"/>
<circle cx="2040.9" cy="1064.8" r="12.5"/>
<circle cx="2042.0" cy="748.4" r="12.5"/>
<circle cx="2043.2" cy="1074.5" r="12.5"/>
<circle cx="2044.3" cy="1077.2" r="12.5"/>
<circle cx="2045.5" cy="1047.5" r="12.5"/>
<circle cx="2046.7" cy="881.9" r="12.5"/>
<circle cx="2047.8" cy="606.7" r="12.5"/>
<circle cx="2049.0" cy="955.7" r="12.5"/>
<circle cx="2050.1" cy="779.4" r="12.5"/>
<circle cx="2051.3" cy="887.2" r="12.5"/>
<circle cx="2052.4" cy="568.0" r="12.5"/>
<circle cx="2053.6" cy="808.3" r="12.5"/>
<circle cx="2054.7" cy="905.1" r="12.5"/>
<circle cx="2055.9" cy="710.1" r="12.5"/>
<circle cx="2057.0" cy="920.5" r="12.5"/>
<circle cx="2058.2" cy="1129.1" r="12.5"/>
<circle cx="2059.4" cy="916.4" r="12.5"/>
<circle cx="2060.5" cy="763.2" r="12.5"/>
<circle cx="2061.7" cy="1209.0" r="12.5"/>
<circle cx="2062.8" cy="551.2" r="12.5"/>
<circle cx="2064.0" cy="727.9" r="12.5"/>
<circle cx="2065.1" cy="953.6" r="12.5"/>
<circle cx="2066.3" cy="787.0" r="12.5"/>
<circle cx="2067.6" cy="436.8" r="12.5"/>
<circle cx="2068.6" cy="543.0" r="12.5"/>
<circle cx="2069.8" cy="938.5" r="12.5"/>
<circle cx="2070.9" cy="1033.9" r="12.5"/>
<circle cx="2072.1" cy="768.6" r="12.5"/>
<circle cx="2073.2" cy="1127.5" r="12.5"/>
<circle cx="2074.4" cy="979.3" r="12.5"/>
<circle cx="2075.5" cy="1089.6" r="12.5"/>
<circle cx="2076.7" cy="652.9" r="12.5"/>
<circle cx="2077.8" cy="906.7" r="12.5"/>
<circle cx="2079.0" cy="1150.0" r="12.5"/>
<circle cx="2080.2" cy="1181.0" r="12.5"/>
<circle cx="2081.3" cy="1095.5" r="12.5"/>
<circle cx="2082.5" cy="890.3" r="12.5"/>
<circle cx="2083.6" cy="918.7" r="12.5"/>
<circle cx="2084.8" cy="774.9" r="12.5"/>
<circle cx="2085.9" cy="1054.7" r="12.5"/>
<circle cx="2087.1" cy="751.0" r="12.5"/>
<circle cx="2088.2" cy="891.3" r="12.5"/>
<circle cx="2089.4" cy="551.3" r="12.5"/>
<circle cx="2090.6" cy="626.7" r="12.5"/>
<circle cx="2091.7" cy="1143.7" r="12.5"/>
<circle cx="2092.9" cy="871.1" r="12.5"/>
<circle cx="2094.0" cy="893.1" r="12.5"/>
<circle cx="2095.2" cy="522.7" r="12.5"/>
<circle cx="2096.3" cy="833.1" r="12.5"/>
<circle cx="2097.5" cy="1158.1" r="12.5"/>
<circle cx="2098.6" cy="600.8" r="12.5"/>
<circle cx="2099.8" cy="503.9" r="12.5"/>
<circle cx="2100.9" cy="1261.8" r="12.5"/>
<circle cx="2102.1" cy="789.6" r="12.5"/>
<circle cx="2103.3" cy="722.6" r="12.5"/>
<circle cx="2104.4" cy="772.3" r="12.5"/>
<circle cx="2106.7" cy="614.6" r="12.5"/>
<circle cx="2107.9" cy="593.6" r="12.5"/>
<circle cx="2109.0" cy="613.7" r="12.5"/>
<circle cx="2110.2" cy="907.2" r="12.5"/>
<circle cx="2111.4" cy="790.0" r="12.5"/>
<circle cx="2112.5" cy="936.3" r="12.5"/>
<circle cx="2113.7" cy="632.1" r="12.5"/>
<circle cx="2114.8" cy="899.9" r="12.5"/>
<circle cx="2116.0" cy="726.1" r="12.5"/>
<circle cx="2117.1" cy="810.2" r="12.5"/>
<circle cx="2118.3" cy="957.1" r="12.5"/>
<circle cx="2119.4" cy="805.1" r="12.5"/>
<circle cx="2120.6" cy="746.3" r="12.5"/>
<circle cx="2121.8" cy="553.9" r="12.5"/>
<circle cx="2122.9" cy="809.8" r="12.5"/>
<circle cx="2124.1" cy="934.3" r="12.5"/>
<circle cx="2125.2" cy="687.1" r="12.5"/>
<circle cx="2126.4" cy="780.4" r="12.5"/>
<circle cx="2127.5" cy="532.2" r="12.5"/>
<circle cx="2128.7" cy="589.3" r="12.5"/>
<circle cx="2129.8" cy="859.4" r="12.5"/>
<circle cx="2131.0" cy="999.4" r="12.5"/>
<circle cx="2132.2" cy="735.2" r="12.5"/>
<circle cx="2133.3" cy="540.8" r="12.5"/>
<circle cx="2134.5" cy="727.1" r="12.5"/>
<circle cx="2135.6" cy="561.2" r="12.5"/>
<circle cx="2136.8" cy="749.1" r="12.5"/>
<circle cx="2137.9" cy="1116.0" r="12.5"/>
<circle cx="2139.1" cy="860.4" r="12.5"/>
<circle cx="2140.2" cy="781.9" r="12.5"/>
<circle cx="2141.4" cy="983.5" r="12.5"/>
<circle cx="2142.6" cy="754.6" r="12.5"/>
<circle cx="2143.7" cy="884.3" r="12.5"/>
<circle cx="2144.9" cy="867.1" r="12.5"/>
<circle cx="2146.0" cy="911.5" r="12.5"/>
<circle cx="2147.2" cy="613.5" r="12.5"/>
<circle cx="2148.3" cy="957.3" r="12.5"/>
<circle cx="2149.5" cy="985.0" r="12.5"/>
<circle cx="2151.8" cy="519.0" r="12.5"/>
<circle cx="2153.0" cy="479.0" r="12.5"/>
<circle cx="2154.1" cy="716.3" r="12.5"/>
<circle cx="2155.3" cy="1110.7" r="12.5"/>
<circle cx="2156.0" cy="1233.7" r="12.5"/>
<circle cx="2157.6" cy="884.4" r="12.5"/>
<circle cx="2158.7" cy="992.8" r="12.5"/>
<circle cx="2159.9" cy="976.5" r="12.5"/>
<circle cx="2161.0" cy="1042.3" r="12.5"/>
<circle cx="2162.2" cy="792.3" r="12.5"/>
<circle cx="2163.4" cy="803.3" r="12.5"/>
<circle cx="2164.5" cy="965.9" r="12.5"/>
<circle cx="2165.7" cy="1006.0" r="12.5"/>
<circle cx="2166.8" cy="1004.8" r="12.5"/>
<circle cx="2168.0" cy="969.2" r="12.5"/>
<circle cx="2169.1" cy="839.6" r="12.5"/>
<circle cx="2170.3" cy="1100.6" r="12.5"/>
<circle cx="2171.4" cy="1009.7" r="12.5"/>
<circle cx="2172.6" cy="1106.5" r="12.5"/>
<circle cx="2173.8" cy="548.7" r="12.5"/>
<circle cx="2174.9" cy="1112.8" r="12.5"/>
<circle cx="2176.1" cy="572.7" r="12.5"/>
<circle cx="2177.8" cy="1366.9" r="12.5"/>
<circle cx="2178.4" cy="998.2" r="12.5"/>
<circle cx="2179.5" cy="855.6" r="12.5"/>
<circle cx="2180.7" cy="975.8" r="12.5"/>
<circle cx="2181.8" cy="880.2" r="12.5"/>
<circle cx="2183.0" cy="904.5" r="12.5"/>
<circle cx="2184.2" cy="975.0" r="12.5"/>
<circle cx="2185.3" cy="995.0" r="12.5"/>
<circle cx="2186.5" cy="800.0" r="12.5"/>
<circle cx="2187.6" cy="540.0" r="12.5"/>
<circle cx="2188.8" cy="790.5" r="12.5"/>
<circle cx="2189.9" cy="1001.2" r="12.5"/>
<circle cx="2191.1" cy="771.6" r="12.5"/>
<circle cx="2192.2" cy="972.7" r="12.5"/>
<circle cx="2193.4" cy="834.0" r="12.5"/>
<circle cx="2194.6" cy="732.4" r="12.5"/>
<circle cx="2195.7" cy="1069.4" r="12.5"/>
<circle cx="2197.0" cy="343.3" r="12.5"/>
<circle cx="2198.3" cy="1359.2" r="12.5"/>
<circle cx="2199.2" cy="1121.3" r="12.5"/>
<circle cx="2200.3" cy="818.5" r="12.5"/>
<circle cx="2201.5" cy="815.8" r="12.5"/>
<circle cx="2202.6" cy="971.3" r="12.5"/>
<circle cx="2203.8" cy="601.4" r="12.5"/>
<circle cx="2205.0" cy="656.9" r="12.5"/>
<circle cx="2206.1" cy="988.6" r="12.5"/>
<circle cx="2207.3" cy="956.0" r="12.5"/>
<circle cx="2208.4" cy="723.4" r="12.5"/>
<circle cx="2209.6" cy="677.6" r="12.5"/>
<circle cx="2210.7" cy="878.3" r="12.5"/>
<circle cx="2211.9" cy="606.3" r="12.5"/>
<circle cx="2213.0" cy="747.7" r="12.5"/>
<circle cx="2214.2" cy="800.5" r="12.5"/>
<circle cx="2215.4" cy="505.5" r="12.5"/>
<circle cx="2216.5" cy="957.4" r="12.5"/>
<circle cx="2217.7" cy="989.1" r="12.5"/>
<circle cx="2218.8" cy="1341.3" r="12.5"/>
<circle cx="2220.0" cy="1046.9" r="12.5"/>
<circle cx="2221.1" cy="633.0" r="12.5"/>
<circle cx="2222.3" cy="648.5" r="12.5"/>
<circle cx="2223.4" cy="723.8" r="12.5"/>
<circle cx="2224.6" cy="645.0" r="12.5"/>
<circle cx="2225.8" cy="1166.2" r="12.5"/>
<circle cx="2226.9" cy="689.6" r="12.5"/>
<circle cx="2228.1" cy="805.5" r="12.5"/>
<circle cx="2230.3" cy="459.9" r="12.5"/>
<circle cx="2231.5" cy="908.5" r="12.5"/>
<circle cx="2232.7" cy="950.0" r="12.5"/>
<circle cx="2233.8" cy="1109.5" r="12.5"/>
<circle cx="2235.0" cy="688.3" r="12.5"/>
<circle cx="2236.2" cy="1023.1" r="12.5"/>
<circle cx="2237.3" cy="908.2" r="12.5"/>
<circle cx="2238.5" cy="678.5" r="12.5"/>
<circle cx="2239.6" cy="904.8" r="12.5"/>
<circle cx="2240.8" cy="643.8" r="12.5"/>
<circle cx="2241.9" cy="1124.2" r="12.5"/>
<circle cx="2243.1" cy="741.9" r="12.5"/>
<circle cx="2244.2" cy="1031.2" r="12.5"/>
<circle cx="2245.4" cy="1070.3" r="12.5"/>
<circle cx="2246.6" cy="766.0" r="12.5"/>
<circle cx="2247.7" cy="717.4" r="12.5"/>
<circle cx="2248.9" cy="905.8" r="12.5"/>
<circle cx="2250.0" cy="709.4" r="12.5"/>
<circle cx="2251.2" cy="1043.7" r="12.5"/>
<circle cx="2252.3" cy="932.7" r="12.5"/>
<circle cx="2253.5" cy="777.7" r="12.5"/>
<circle cx="2254.7" cy="1343.8" r="12.5"/>
<circle cx="2255.8" cy="796.1" r="12.5"/>
<circle cx="2257.0" cy="1031.6" r="12.5"/>
<circle cx="2258.1" cy="663.9" r="12.5"/>
<circle cx="2259.3" cy="1158.6" r="12.5"/>
<circle cx="2260.4" cy="768.0" r="12.5"/>
<circle cx="2261.6" cy="863.6" r="12.5"/>
<circle cx="2262.7" cy="729.3" r="12.5"/>
<circle cx="2263.9" cy="1140.0" r="12.5"/>
<circle cx="2265.0" cy="1007.4" r="12.5"/>
<circle cx="2266.2" cy="1071.0" r="12.5"/>
<circle cx="2267.4" cy="967.4" r="12.5"/>
<circle cx="2268.8" cy="1351.5" r="12.5"/>
<circle cx="2269.7" cy="860.6" r="12.5"/>
<circle cx="2270.8" cy="1110.6" r="12.5"/>
<circle cx="2272.0" cy="936.5" r="12.5"/>
<circle cx="2273.1" cy="892.4" r="12.5"/>
<circle cx="2274.3" cy="907.3" r="12.5"/>
<circle cx="2275.4" cy="922.0" r="12.5"/>
<circle cx="2276.6" cy="833.1" r="12.5"/>
<circle cx="2277.8" cy="753.4" r="12.5"/>
<circle cx="2278.9" cy="543.9" r="12.5"/>
<circle cx="2280.1" cy="1119.7" r="12.5"/>
<circle cx="2281.2" cy="579.3" r="12.5"/>
<circle cx="2282.4" cy="487.4" r="12.5"/>
<circle cx="2283.5" cy="657.9" r="12.5"/>
<circle cx="2284.7" cy="1094.5" r="12.5"/>
<circle cx="2285.8" cy="982.8" r="12.5"/>
<circle cx="2287.0" cy="677.9" r="12.5"/>
<circle cx="2288.1" cy="823.6" r="12.5"/>
<circle cx="2289.3" cy="777.0" r="12.5"/>
<circle cx="2290.5" cy="508.1" r="12.5"/>
<circle cx="2291.6" cy="722.4" r="12.5"/>
<circle cx="2292.8" cy="825.0" r="12.5"/>
<circle cx="2293.9" cy="977.0" r="12.5"/>
<circle cx="2295.1" cy="598.1" r="12.5"/>
<circle cx="2296.2" cy="485.3" r="12.5"/>
<circle cx="2297.4" cy="560.5" r="12.5"/>
<circle cx="2298.5" cy="867.8" r="12.5"/>
<circle cx="2299.7" cy="826.5" r="12.5"/>
<circle cx="2300.9" cy="846.0" r="12.5"/>
<circle cx="2302.0" cy="856.7" r="12.5"/>
<circle cx="2303.2" cy="769.5" r="12.5"/>
<circle cx="2304.3" cy="619.8" r="12.5"/>
<circle cx="2305.5" cy="914.1" r="12.5"/>
<circle cx="2306.6" cy="896.9" r="12.5"/>
<circle cx="2307.8" cy="929.3" r="12.5"/>
<circle cx="2308.9" cy="1038.8" r="12.5"/>
<circle cx="2310.1" cy="627.6" r="12.5"/>
<circle cx="2311.3" cy="496.9" r="12.5"/>
<circle cx="2312.4" cy="550.7" r="12.5"/>
<circle cx="2313.6" cy="1159.7" r="12.5"/>
<circle cx="2314.7" cy="672.2" r="12.5"/>
<circle cx="2316.1" cy="433.0" r="12.5"/>
<circle cx="2317.0" cy="910.5" r="12.5"/>
<circle cx="2318.2" cy="833.5" r="12.5"/>
<circle cx="2319.3" cy="966.3" r="12.5"/>
<circle cx="2320.5" cy="1234.0" r="12.5"/>
<circle cx="2321.7" cy="764.6" r="12.5"/>
<circle cx="2322.8" cy="820.6" r="12.5"/>
<circle cx="2324.0" cy="749.4" r="12.5"/>
<circle cx="2325.1" cy="900.0" r="12.5"/>
<circle cx="2326.3" cy="950.7" r="12.5"/>
<circle cx="2327.4" cy="694.3" r="12.5"/>
<circle cx="2328.6" cy="1080.1" r="12.5"/>
<circle cx="2329.7" cy="1060.1" r="12.5"/>
<circle cx="2330.9" cy="952.5" r="12.5"/>
<circle cx="2332.1" cy="860.6" r="12.5"/>
<circle cx="2333.2" cy="832.9" r="12.5"/>
<circle cx="2334.4" cy="619.6" r="12.5"/>
<circle cx="2335.5" cy="981.7" r="12.5"/>
<circle cx="2336.7" cy="707.0" r="12.5"/>
<circle cx="2337.8" cy="782.0" r="12.5"/>
<circle cx="2339.0" cy="1034.4" r="12.5"/>
<circle cx="2340.1" cy="704.2" r="12.5"/>
<circle cx="2341.3" cy="767.9" r="12.5"/>
<circle cx="2342.5" cy="989.9" r="12.5"/>
<circle cx="2343.6" cy="1142.6" r="12.5"/>
<circle cx="2344.8" cy="716.8" r="12.5"/>
<circle cx="2345.9" cy="1014.1" r="12.5"/>
<circle cx="2347.1" cy="713.0" r="12.5"/>
<circle cx="2348.2" cy="889.0" r="12.5"/>
<circle cx="2349.4" cy="904.8" r="12.5"/>
<circle cx="2350.5" cy="631.9" r="12.5"/>
<circle cx="2351.7" cy="980.6" r="12.5"/>
<circle cx="2352.9" cy="1103.2" r="12.5"/>
<circle cx="2354.0" cy="806.9" r="12.5"/>
<circle cx="2355.2" cy="841.5" r="12.5"/>
<circle cx="2356.3" cy="615.1" r="12.5"/>
<circle cx="2357.5" cy="1085.6" r="12.5"/>
<circle cx="2358.6" cy="801.1" r="12.5"/>
<circle cx="2359.8" cy="596.8" r="12.5"/>
<circle cx="2360.9" cy="930.5" r="12.5"/>
<circle cx="2362.1" cy="577.8" r="12.5"/>
<circle cx="2363.3" cy="688.5" r="12.5"/>
<circle cx="2364.4" cy="511.3" r="12.5"/>
<circle cx="2365.6" cy="1055.0" r="12.5"/>
<circle cx="2366.7" cy="1166.2" r="12.5"/>
<circle cx="2367.9" cy="727.4" r="12.5"/>
<circle cx="2369.0" cy="728.8" r="12.5"/>
<circle cx="2370.2" cy="744.9" r="12.5"/>
<circle cx="2371.3" cy="748.5" r="12.5"/>
<circle cx="2372.5" cy="948.1" r="12.5"/>
<circle cx="2373.7" cy="1087.4" r="12.5"/>
<circle cx="2374.8" cy="680.9" r="12.5"/>
<circle cx="2376.0" cy="932.8" r="12.5"/>
<circle cx="2377.1" cy="573.4" r="12.5"/>
<circle cx="2378.3" cy="1108.3" r="12.5"/>
<circle cx="2379.4" cy="843.8" r="12.5"/>
<circle cx="2380.6" cy="743.2" r="12.5"/>
<circle cx="2381.7" cy="1119.7" r="12.5"/>
<circle cx="2382.9" cy="853.8" r="12.5"/>
<circle cx="2384.1" cy="1088.6" r="12.5"/>
<circle cx="2385.2" cy="1048.3" r="12.5"/>
<circle cx="2386.4" cy="1126.8" r="12.5"/>
<circle cx="2387.5" cy="723.7" r="12.5"/>
<circle cx="2388.7" cy="863.8" r="12.5"/>
<circle cx="2389.8" cy="914.1" r="12.5"/>
<circle cx="2391.0" cy="804.8" r="12.5"/>
<circle cx="2392.1" cy="1080.6" r="12.5"/>
<circle cx="2394.5" cy="695.6" r="12.5"/>
<circle cx="2395.6" cy="982.2" r="12.5"/>
<circle cx="2396.8" cy="1046.3" r="12.5"/>
<circle cx="2397.9" cy="519.2" r="12.5"/>
<circle cx="2399.1" cy="646.0" r="12.5"/>
<circle cx="2400.2" cy="650.9" r="12.5"/>
<circle cx="2401.4" cy="709.8" r="12.5"/>
<circle cx="2402.0" cy="422.7" r="12.5"/>
<circle cx="2403.7" cy="872.3" r="12.5"/>
<circle cx="2404.9" cy="774.5" r="12.5"/>
<circle cx="2406.0" cy="808.4" r="12.5"/>
<circle cx="2407.2" cy="717.8" r="12.5"/>
<circle cx="2408.3" cy="779.1" r="12.5"/>
<circle cx="2409.5" cy="875.5" r="12.5"/>
<circle cx="2410.6" cy="918.1" r="12.5"/>
<circle cx="2411.8" cy="648.9" r="12.5"/>
<circle cx="2412.9" cy="755.8" r="12.5"/>
<circle cx="2414.1" cy="648.4" r="12.5"/>
<circle cx="2415.3" cy="742.5" r="12.5"/>
<circle cx="2416.4" cy="553.1" r="12.5"/>
<circle cx="2417.4" cy="453.5" r="12.5"/>
<circle cx="2418.7" cy="937.6" r="12.5"/>
<circle cx="2419.9" cy="892.8" r="12.5"/>
<circle cx="2421.0" cy="753.5" r="12.5"/>
<circle cx="2422.2" cy="662.5" r="12.5"/>
<circle cx="2423.3" cy="706.5" r="12.5"/>
<circle cx="2424.5" cy="666.3" r="12.5"/>
<circle cx="2425.7" cy="552.1" r="12.5"/>
<circle cx="2426.8" cy="1059.3" r="12.5"/>
<circle cx="2428.0" cy="1217.6" r="12.5"/>
<circle cx="2428.9" cy="340.8" r="12.5"/>
<circle cx="2430.3" cy="597.2" r="12.5"/>
<circle cx="2431.4" cy="605.9" r="12.5"/>
<circle cx="2432.6" cy="886.8" r="12.5"/>
<circle cx="2433.7" cy="888.4" r="12.5"/>
<circle cx="2434.9" cy="545.2" r="12.5"/>
<circle cx="2436.1" cy="513.0" r="12.5"/>
<circle cx="2437.2" cy="879.6" r="12.5"/>
<circle cx="2438.4" cy="510.6" r="12.5"/>
<circle cx="2439.5" cy="1031.9" r="12.5"/>
<circle cx="2440.7" cy="708.0" r="12.5"/>
<circle cx="2441.8" cy="807.2" r="12.5"/>
<circle cx="2443.0" cy="798.2" r="12.5"/>
<circle cx="2444.1" cy="708.9" r="12.5"/>
<circle cx="2445.3" cy="780.4" r="12.5"/>
<circle cx="2446.5" cy="759.5" r="12.5"/>
<circle cx="2447.6" cy="1023.3" r="12.5"/>
<circle cx="2448.8" cy="796.3" r="12.5"/>
<circle cx="2449.9" cy="804.7" r="12.5"/>
<circle cx="2451.1" cy="723.3" r="12.5"/>
<circle cx="2452.2" cy="705.0" r="12.5"/>
<circle cx="2453.4" cy="687.9" r="12.5"/>
<circle cx="2454.5" cy="817.4" r="12.5"/>
<circle cx="2455.7" cy="1121.5" r="12.5"/>
<circle cx="2456.9" cy="1001.3" r="12.5"/>
<circle cx="2458.0" cy="861.0" r="12.5"/>
<circle cx="2459.2" cy="1090.5" r="12.5"/>
<circle cx="2460.3" cy="985.9" r="12.5"/>
<circle cx="2461.5" cy="857.3" r="12.5"/>
<circle cx="2462.6" cy="787.7" r="12.5"/>
<circle cx="2463.8" cy="633.4" r="12.5"/>
<circle cx="2464.9" cy="854.4" r="12.5"/>
<circle cx="2466.1" cy="746.9" r="12.5"/>
<circle cx="2467.3" cy="559.5" r="12.5"/>
<circle cx="2468.4" cy="598.3" r="12.5"/>
<circle cx="2469.6" cy="1121.0" r="12.5"/>
<circle cx="2470.7" cy="835.4" r="12.5"/>
<circle cx="2471.9" cy="888.1" r="12.5"/>
<circle cx="2473.0" cy="834.4" r="12.5"/>
<circle cx="2474.2" cy="729.1" r="12.5"/>
<circle cx="2475.3" cy="892.6" r="12.5"/>
<circle cx="2476.5" cy="1000.3" r="12.5"/>
<circle cx="2477.7" cy="771.3" r="12.5"/>
<circle cx="2478.8" cy="916.6" r="12.5"/>
<circle cx="2480.0" cy="999.2" r="12.5"/>
<circle cx="2481.1" cy="742.2" r="12.5"/>
<circle cx="2482.3" cy="858.0" r="12.5"/>
<circle cx="2483.4" cy="691.9" r="12.5"/>
<circle cx="2484.6" cy="922.1" r="12.5"/>
<circle cx="2485.7" cy="751.6" r="12.5"/>
<circle cx="2486.9" cy="1004.5" r="12.5"/>
<circle cx="2488.1" cy="681.9" r="12.5"/>
<circle cx="2489.2" cy="1093.6" r="12.5"/>
<circle cx="2490.4" cy="764.6" r="12.5"/>
<circle cx="2491.5" cy="670.4" r="12.5"/>
<circle cx="2492.7" cy="662.2" r="12.5"/>
<circle cx="2493.8" cy="929.4" r="12.5"/>
<circle cx="2495.0" cy="666.2" r="12.5"/>
<circle cx="2496.1" cy="1117.2" r="12.5"/>
<circle cx="2497.3" cy="1035.4" r="12.5"/>
<circle cx="2498.5" cy="910.1" r="12.5"/>
<circle cx="2499.3" cy="1206.8" r="12.5"/>
<circle cx="2500.8" cy="595.0" r="12.5"/>
<circle cx="2501.9" cy="806.2" r="12.5"/>
<circle cx="2503.1" cy="683.7" r="12.5"/>
<circle cx="2504.2" cy="535.0" r="12.5"/>
<circle cx="2505.4" cy="879.8" r="12.5"/>
<circle cx="2506.5" cy="1156.3" r="12.5"/>
<circle cx="2507.7" cy="709.5" r="12.5"/>
<circle cx="2508.8" cy="938.0" r="12.5"/>
<circle cx="2510.0" cy="1017.1" r="12.5"/>
<circle cx="2511.2" cy="642.4" r="12.5"/>
<circle cx="2512.3" cy="742.6" r="12.5"/>
<circle cx="2513.5" cy="854.4" r="12.5"/>
<circle cx="2514.6" cy="889.1" r="12.5"/>
<circle cx="2515.8" cy="627.3" r="12.5"/>
<circle cx="2516.9" cy="851.4" r="12.5"/>
<circle cx="2518.1" cy="793.2" r="12.5"/>
<circle cx="2519.2" cy="970.5" r="12.5"/>
<circle cx="2520.4" cy="568.4" r="12.5"/>
<circle cx="2521.6" cy="725.6" r="12.5"/>
<circle cx="2522.7" cy="737.8" r="12.5"/>
<circle cx="2523.9" cy="768.9" r="12.5"/>
<circle cx="2525.0" cy="948.2" r="12.5"/>
<circle cx="2526.2" cy="712.4" r="12.5"/>
<circle cx="2527.3" cy="1210.6" r="12.5"/>
<circle cx="2528.5" cy="698.1" r="12.5"/>
<circle cx="2529.6" cy="963.6" r="12.5"/>
<circle cx="2530.8" cy="992.8" r="12.5"/>
<circle cx="2532.0" cy="982.6" r="12.5"/>
<circle cx="2533.1" cy="787.1" r="12.5"/>
<circle cx="2534.3" cy="681.8" r="12.5"/>
<circle cx="2535.4" cy="783.4" r="12.5"/>
<circle cx="2536.6" cy="945.6" r="12.5"/>
<circle cx="2537.7" cy="859.8" r="12.5"/>
<circle cx="2538.9" cy="937.4" r="12.5"/>
<circle cx="2540.0" cy="940.3" r="12.5"/>
<circle cx="2542.4" cy="684.6" r="12.5"/>
<circle cx="2543.5" cy="678.3" r="12.5"/>
<circle cx="2544.7" cy="1071.2" r="12.5"/>
<circle cx="2545.8" cy="753.9" r="12.5"/>
<circle cx="2547.0" cy="589.4" r="12.5"/>
<circle cx="2548.1" cy="1131.4" r="12.5"/>
<circle cx="2549.3" cy="686.7" r="12.5"/>
<circle cx="2550.4" cy="666.3" r="12.5"/>
<circle cx="2551.6" cy="993.3" r="12.5"/>
<circle cx="2552.8" cy="644.6" r="12.5"/>
<circle cx="2553.9" cy="681.0" r="12.5"/>
<circle cx="2555.1" cy="1005.5" r="12.5"/>
<circle cx="2556.2" cy="689.3" r="12.5"/>
<circle cx="2557.4" cy="1206.2" r="12.5"/>
<circle cx="2558.5" cy="860.0" r="12.5"/>
<circle cx="2559.7" cy="1211.1" r="12.5"/>
<circle cx="2560.8" cy="869.7" r="12.5"/>
<circle cx="2562.0" cy="856.7" r="12.5"/>
<circle cx="2563.4" cy="1241.3" r="12.5"/>
<circle cx="2564.3" cy="730.6" r="12.5"/>
<circle cx="2565.5" cy="797.4" r="12.5"/>
<circle cx="2566.6" cy="746.4" r="12.5"/>
<circle cx="2567.8" cy="824.6" r="12.5"/>
<circle cx="2568.9" cy="960.6" r="12.5"/>
<circle cx="2570.1" cy="626.4" r="12.5"/>
<circle cx="2571.2" cy="672.9" r="12.5"/>
<circle cx="2572.4" cy="519.3" r="12.5"/>
<circle cx="2573.6" cy="1083.7" r="12.5"/>
<circle cx="2574.7" cy="825.7" r="12.5"/>
<circle cx="2575.9" cy="847.1" r="12.5"/>
<circle cx="2577.0" cy="843.3" r="12.5"/>
<circle cx="2578.2" cy="1028.3" r="12.5"/>
<circle cx="2579.3" cy="921.3" r="12.5"/>
<circle cx="2580.5" cy="1010.6" r="12.5"/>
<circle cx="2581.6" cy="839.6" r="12.5"/>
<circle cx="2582.8" cy="858.2" r="12.5"/>
<circle cx="2584.0" cy="870.6" r="12.5"/>
<circle cx="2585.1" cy="584.7" r="12.5"/>
<circle cx="2586.5" cy="1241.3" r="12.5"/>
<circle cx="2587.4" cy="1058.1" r="12.5"/>
<circle cx="2588.6" cy="625.2" r="12.5"/>
<circle cx="2589.7" cy="713.3" r="12.5"/>
<circle cx="2590.9" cy="994.1" r="12.5"/>
<circle cx="2592.0" cy="899.0" r="12.5"/>
<circle cx="2593.2" cy="1027.2" r="12.5"/>
<circle cx="2594.4" cy="1158.3" r="12.5"/>
<circle cx="2595.5" cy="1176.9" r="12.5"/>
<circle cx="2596.7" cy="1122.9" r="12.5"/>
<circle cx="2597.8" cy="867.2" r="12.5"/>
<circle cx="2599.0" cy="1197.2" r="12.5"/>
<circle cx="2600.1" cy="746.8" r="12.5"/>
<circle cx="2601.3" cy="885.9" r="12.5"/>
<circle cx="2602.4" cy="1057.8" r="12.5"/>
<circle cx="2603.6" cy="857.6" r="12.5"/>
<circle cx="2604.8" cy="868.3" r="12.5"/>
<circle cx="2605.9" cy="815.2" r="12.5"/>
<circle cx="2607.1" cy="1094.9" r="12.5"/>
<circle cx="2608.2" cy="509.2" r="12.5"/>
<circle cx="2609.4" cy="1069.6" r="12.5"/>
<circle cx="2610.5" cy="1042.5" r="12.5"/>
<circle cx="2612.1" cy="1272.1" r="12.5"/>
<circle cx="2612.8" cy="839.4" r="12.5"/>
<circle cx="2614.0" cy="949.1" r="12.5"/>
<circle cx="2615.2" cy="681.4" r="12.5"/>
<circle cx="2616.3" cy="1035.7" r="12.5"/>
<circle cx="2617.5" cy="1228.1" r="12.5"/>
<circle cx="2618.6" cy="683.1" r="12.5"/>
<circle cx="2619.8" cy="1069.0" r="12.5"/>
<circle cx="2620.9" cy="821.7" r="12.5"/>
<circle cx="2622.1" cy="775.4" r="12.5"/>
<circle cx="2624.4" cy="745.8" r="12.5"/>
</g>
<path clip-path="url(#c1)" d="M313.7,1224.0 L314.7,1050.0 L316.0,952.3 L317.6,875.4 L320.6,836.4 L322.9,797.5 L325.6,761.3 L327.6,778.7 L330.4,805.0 L332.2,855.0 L333.6,888.2 L337.8,991.1 L339.1,953.5 L341.6,873.4 L343.7,881.8 L346.4,878.6 L348.4,894.6 L350.6,914.2 L353.0,900.6 L354.4,875.4 L357.6,805.0 L360.8,657.2 L362.2,667.7 L364.5,685.1 L365.7,692.9 L366.8,704.4 L368.9,728.1 L371.5,789.1 L373.0,824.2 L376.9,894.6 L378.4,902.7 L381.7,917.5 L383.0,882.1 L385.8,798.6 L387.6,795.8 L389.9,787.8 L391.3,792.2 L394.6,761.5 L396.1,751.7 L399.9,824.2 L401.5,872.7 L402.5,904.2 L403.8,911.9 L406.1,910.9 L408.9,925.5 L410.7,859.8 L412.1,806.2 L415.9,890.2 L417.7,857.6 L419.1,828.6 L422.3,899.9 L423.3,920.3 L424.6,925.5 L426.5,941.5 L429.2,873.6 L431.3,824.2 L433.8,810.0 L437.1,791.8 L438.4,812.3 L440.9,856.2 L443.1,880.7 L444.1,893.4 L445.4,893.8 L447.7,882.6 L448.9,875.4 L450.0,871.8 L453.1,859.0 L454.6,886.4 L456.9,920.3 L459.2,960.9 L461.5,987.0 L462.7,1005.5 L463.9,986.2 L466.2,943.0 L468.1,904.2 L470.8,868.9 L473.9,825.4 L475.4,832.6 L478.7,856.2 L480.0,864.7 L481.9,880.6 L484.6,861.0 L485.7,844.6 L487.0,855.8 L489.6,867.8 L492.2,809.4 L493.9,837.0 L496.0,864.6 L499.2,753.7 L500.8,759.6 L503.4,750.5 L505.4,738.6 L508.2,729.3 L510.1,777.8 L512.0,826.2 L514.7,806.7 L516.2,790.2 L519.3,849.0 L521.0,865.8 L523.9,892.7 L525.1,903.0 L526.2,883.3 L529.0,822.2 L530.8,834.7 L533.1,858.2 L535.5,836.1 L537.0,819.0 L540.1,853.2 L541.8,867.8 L545.0,796.6 L547.0,820.2 L548.2,839.0 L549.3,801.5 L551.4,722.9 L553.9,741.4 L556.2,760.1 L558.6,776.1 L560.0,792.2 L563.3,920.3 L565.5,952.3 L567.4,968.3 L570.1,995.5 L571.3,1007.1 L572.4,978.3 L575.4,894.6 L577.0,869.4 L580.2,847.8 L581.7,875.4 L584.4,901.0 L586.3,907.8 L588.2,922.3 L590.9,849.2 L592.1,815.8 L593.2,833.8 L596.2,845.4 L597.8,826.3 L599.4,806.2 L602.4,834.4 L604.2,851.8 L607.4,780.5 L609.4,789.3 L612.2,807.0 L614.0,797.9 L617.1,766.5 L618.6,756.1 L621.9,730.9 L623.2,759.0 L626.0,824.2 L628.3,878.6 L630.2,893.8 L633.1,911.0 L634.8,878.9 L637.9,812.6 L639.4,819.8 L642.0,835.8 L644.0,798.3 L645.2,772.9 L646.3,747.0 L647.5,713.3 L648.6,755.0 L650.7,832.6 L653.9,758.1 L655.6,769.0 L657.1,766.5 L660.3,839.0 L662.5,813.0 L665.1,787.0 L667.1,846.0 L668.3,878.6 L669.4,898.9 L671.5,933.1 L674.1,940.2 L676.3,944.7 L679.5,878.6 L681.0,858.1 L682.7,822.2 L685.6,828.6 L687.5,843.4 L690.7,877.4 L692.5,858.1 L695.5,790.2 L697.2,808.0 L700.0,832.6 L701.8,810.7 L704.8,796.6 L706.4,819.5 L708.0,855.0 L711.0,801.8 L712.2,793.4 L713.3,808.7 L716.0,856.2 L717.9,891.8 L719.2,904.2 L720.3,910.9 L723.1,946.3 L724.9,924.4 L727.2,888.2 L729.5,872.7 L732.0,863.8 L734.1,896.4 L735.9,928.7 L738.7,876.0 L740.0,856.2 L741.0,851.8 L744.2,817.8 L745.7,812.9 L748.0,783.7 L750.3,808.1 L751.9,826.2 L755.1,796.6 L757.2,847.6 L759.2,906.2 L761.8,857.9 L763.4,824.2 L767.3,805.0 L768.8,804.0 L770.5,791.8 L774.3,821.0 L775.7,830.1 L778.5,847.0 L780.3,822.9 L782.6,803.0 L785.8,816.6 L787.2,763.1 L789.0,696.1 L791.9,689.4 L792.9,689.7 L794.2,687.4 L796.1,670.1 L799.3,760.1 L801.8,856.2 L804.1,913.9 L805.7,921.0 L807.3,943.1 L810.3,905.3 L812.1,888.2 L815.9,828.6 L817.3,841.2 L820.1,855.0 L821.9,820.3 L823.3,808.2 L826.5,808.2 L829.7,865.8 L831.1,885.8 L833.9,928.7 L835.8,893.4 L837.7,849.8 L840.9,827.4 L842.7,809.3 L844.8,793.4 L848.0,880.6 L849.6,843.8 L851.2,805.0 L854.4,787.0 L856.5,857.0 L857.6,888.2 L858.9,903.8 L861.7,925.5 L863.5,894.8 L864.9,875.4 L868.1,805.0 L870.4,737.7 L872.9,730.9 L875.0,763.4 L876.1,779.3 L877.3,794.2 L879.3,817.8 L881.9,829.4 L885.1,766.5 L886.6,758.4 L888.3,759.7 L892.2,779.3 L893.5,803.2 L895.4,830.6 L898.6,888.2 L900.4,935.5 L901.8,968.3 L905.0,999.1 L907.4,968.4 L909.8,936.3 L913.0,872.2 L914.3,842.5 L916.2,808.2 L919.4,801.4 L921.2,834.5 L923.5,867.8 L925.8,831.7 L928.0,799.8 L930.5,811.6 L932.2,824.2 L935.4,872.2 L937.4,902.7 L938.6,920.3 L939.7,924.9 L941.8,935.1 L944.3,906.0 L946.0,888.2 L949.8,856.2 L951.3,821.5 L953.0,790.2 L956.2,851.8 L958.2,822.0 L960.0,805.0 L963.3,772.5 L965.1,821.6 L966.5,858.2 L970.6,828.6 L972.0,846.2 L974.8,871.0 L976.7,833.7 L978.6,807.8 L981.3,815.4 L982.5,824.2 L983.6,836.5 L986.6,856.2 L988.2,883.1 L989.8,920.3 L993.0,957.5 L995.1,939.5 L997.8,920.3 L999.8,906.1 L1002.6,888.2 L1004.4,865.7 L1005.8,854.2 L1009.0,909.4 L1012.2,805.0 L1013.6,808.1 L1015.5,787.0 L1018.7,824.2 L1020.6,879.7 L1021.9,920.3 L1022.9,941.8 L1025.1,1000.3 L1027.3,1018.3 L1029.8,985.4 L1031.5,968.3 L1034.7,872.2 L1036.7,830.7 L1037.9,817.8 L1039.0,809.7 L1041.1,801.4 L1044.3,839.0 L1046.0,821.5 L1047.5,805.0 L1050.7,799.8 L1053.9,856.2 L1055.2,866.7 L1057.1,890.2 L1060.3,824.2 L1062.1,810.0 L1063.5,796.6 L1066.7,819.8 L1069.9,783.7 L1071.4,797.3 L1073.1,824.2 L1075.3,839.0 L1078.5,776.1 L1080.6,759.8 L1081.7,751.7 L1082.9,763.3 L1084.3,774.9 L1087.5,716.5 L1090.7,726.9 L1092.2,708.9 L1094.6,687.7 L1096.8,730.5 L1098.7,762.1 L1100.0,726.1 L1101.4,767.8 L1103.2,824.2 L1106.0,888.2 L1107.0,904.6 L1108.3,890.4 L1111.2,881.8 L1113.0,869.2 L1115.4,833.8 L1117.6,777.3 L1120.8,807.0 L1122.2,784.2 L1124.0,756.9 L1126.8,751.0 L1128.8,748.5 L1132.0,805.0 L1133.7,854.5 L1135.2,888.2 L1138.4,952.3 L1140.7,965.2 L1142.3,967.1 L1145.3,873.9 L1146.4,841.4 L1147.6,844.1 L1150.6,853.0 L1152.2,877.5 L1154.4,920.3 L1156.8,968.3 L1158.3,983.1 L1162.4,841.4 L1163.8,855.4 L1166.6,871.0 L1168.4,843.2 L1169.8,815.8 L1173.7,871.0 L1175.3,826.8 L1177.5,777.3 L1179.9,793.0 L1181.7,800.6 L1184.9,758.1 L1186.9,773.6 L1189.7,797.4 L1191.5,757.0 L1192.9,728.1 L1196.1,680.1 L1198.4,661.5 L1200.7,642.7 L1202.5,633.2 L1205.7,696.1 L1208.2,792.2 L1210.0,843.1 L1211.4,879.0 L1214.6,861.8 L1215.9,849.8 L1220.1,778.9 L1221.5,779.3 L1224.3,792.2 L1226.5,890.2 L1228.5,867.2 L1229.7,847.8 L1230.8,869.6 L1232.9,920.3 L1235.4,931.6 L1237.1,936.7 L1240.9,888.2 L1242.3,876.3 L1244.8,865.8 L1246.9,833.0 L1248.0,824.2 L1249.2,812.1 L1252.1,779.3 L1253.9,769.3 L1256.0,758.1 L1259.5,792.2 L1261.7,888.2 L1264.0,928.7 L1265.4,922.9 L1268.1,888.2 L1270.0,864.2 L1271.3,824.2 L1272.3,807.6 L1274.5,766.5 L1277.0,761.9 L1279.3,756.5 L1282.5,826.2 L1283.9,817.5 L1286.4,796.6 L1288.5,815.6 L1289.6,830.6 L1290.8,853.4 L1292.8,888.2 L1295.4,912.1 L1297.0,933.5 L1300.1,902.3 L1301.1,888.2 L1302.4,876.4 L1304.3,857.4 L1307.0,890.1 L1308.2,915.9 L1309.3,889.9 L1312.0,822.2 L1313.9,833.2 L1315.2,851.8 L1316.2,827.2 L1319.4,753.3 L1320.9,787.0 L1322.6,826.2 L1325.8,796.6 L1327.8,852.2 L1329.0,883.8 L1330.1,868.5 L1333.1,824.2 L1334.7,804.8 L1337.0,780.5 L1339.3,818.0 L1340.8,843.4 L1344.0,870.2 L1345.0,875.8 L1346.3,857.1 L1349.2,793.4 L1350.9,836.9 L1352.4,871.0 L1356.2,756.5 L1357.8,788.7 L1360.0,824.2 L1363.3,888.2 L1364.7,900.0 L1367.1,927.4 L1369.0,941.5 L1371.7,899.8 L1373.8,867.0 L1376.3,891.8 L1378.6,915.9 L1380.9,887.6 L1383.4,872.2 L1385.5,844.5 L1386.6,824.2 L1387.8,801.9 L1389.8,766.5 L1393.0,732.5 L1394.8,743.2 L1397.8,755.7 L1399.4,736.7 L1402.6,697.3 L1404.0,714.3 L1406.8,762.1 L1408.6,722.9 L1410.0,706.9 L1413.2,760.1 L1415.6,791.7 L1417.1,817.8 L1420.9,912.6 L1422.5,890.1 L1425.1,856.2 L1427.1,849.2 L1429.2,824.2 L1431.7,775.3 L1433.1,760.1 L1436.3,734.5 L1439.5,682.9 L1441.0,744.4 L1442.7,824.2 L1445.9,888.6 L1447.9,869.9 L1450.7,843.4 L1452.5,820.4 L1454.8,792.2 L1457.1,777.9 L1458.7,772.5 L1461.9,824.2 L1464.1,851.0 L1465.1,863.0 L1466.4,840.2 L1468.9,806.2 L1471.0,826.8 L1473.1,845.4 L1475.6,818.7 L1477.3,804.6 L1481.1,887.0 L1482.6,873.3 L1484.9,859.0 L1485.9,856.2 L1487.2,848.2 L1489.5,841.7 L1491.4,825.4 L1494.1,865.0 L1495.5,888.2 L1498.7,912.0 L1500.0,920.3 L1501.0,925.0 L1503.2,935.1 L1505.7,879.0 L1507.0,854.2 L1511.2,871.0 L1512.6,855.2 L1515.4,815.8 L1517.2,822.5 L1519.2,832.6 L1521.8,801.6 L1524.0,775.7 L1526.4,817.5 L1528.2,855.0 L1532.0,822.2 L1533.4,849.1 L1535.2,888.2 L1538.0,929.6 L1539.1,945.9 L1540.3,950.9 L1543.2,960.7 L1544.9,916.8 L1546.4,888.2 L1549.6,863.8 L1552.8,920.3 L1554.2,935.5 L1556.0,951.1 L1558.8,911.9 L1560.2,888.2 L1564.1,863.8 L1565.7,881.3 L1567.9,906.2 L1571.1,838.2 L1572.6,843.9 L1575.3,867.8 L1577.3,829.0 L1578.5,809.4 L1579.6,826.1 L1582.6,862.6 L1584.2,873.0 L1586.5,898.2 L1588.8,879.6 L1590.6,854.2 L1593.4,871.8 L1594.5,877.4 L1595.7,828.7 L1597.0,779.3 L1598.1,768.6 L1600.2,742.1 L1602.7,788.9 L1604.1,807.0 L1607.3,783.7 L1610.5,909.4 L1611.9,891.4 L1614.7,860.6 L1616.5,872.4 L1617.9,881.8 L1621.1,909.4 L1623.5,842.5 L1624.9,809.4 L1628.7,839.0 L1630.4,810.7 L1631.9,785.3 L1635.0,828.3 L1636.1,845.4 L1637.3,824.8 L1639.3,793.4 L1642.5,832.6 L1644.3,820.5 L1646.7,806.2 L1648.9,833.6 L1650.5,856.2 L1654.4,888.2 L1655.8,893.2 L1658.5,901.4 L1660.4,850.4 L1661.7,819.0 L1662.7,821.4 L1665.9,830.6 L1667.4,842.5 L1669.7,856.2 L1672.9,869.4 L1674.3,851.4 L1676.8,828.6 L1678.9,837.0 L1680.9,843.4 L1684.1,867.8 L1685.8,827.7 L1687.3,792.2 L1690.6,734.5 L1692.8,710.0 L1694.7,676.5 L1697.4,726.1 L1698.6,746.1 L1699.7,726.0 L1701.1,713.3 L1703.4,824.2 L1706.6,903.0 L1708.9,853.3 L1710.7,824.2 L1713.9,779.3 L1715.9,762.7 L1717.1,751.7 L1718.2,768.5 L1721.0,823.0 L1722.8,797.2 L1724.2,758.1 L1727.4,813.4 L1729.7,779.0 L1731.2,754.9 L1734.4,856.2 L1736.7,907.8 L1738.6,944.7 L1741.3,886.2 L1742.8,856.2 L1745.9,784.7 L1747.2,754.9 L1750.4,798.6 L1753.0,888.2 L1755.1,930.6 L1756.2,954.3 L1757.4,939.4 L1760.0,918.3 L1762.1,929.8 L1763.3,935.1 L1764.4,899.5 L1766.5,824.2 L1769.7,785.3 L1771.3,802.1 L1773.8,823.0 L1775.9,804.7 L1777.0,792.2 L1778.2,768.5 L1780.9,734.1 L1782.9,757.0 L1784.4,779.3 L1786.6,830.6 L1789.8,862.6 L1793.0,904.6 L1794.4,849.5 L1796.2,792.2 L1799.4,732.5 L1801.3,749.6 L1803.6,760.1 L1806.8,824.2 L1808.3,830.6 L1810.6,850.2 L1812.9,823.0 L1814.5,792.2 L1817.7,783.7 L1819.8,828.6 L1820.9,850.2 L1822.1,824.4 L1825.1,777.3 L1826.7,795.8 L1829.2,826.2 L1831.4,802.7 L1833.1,783.7 L1836.3,856.2 L1838.3,882.3 L1839.5,888.2 L1840.6,907.4 L1843.3,943.1 L1845.2,916.9 L1847.5,888.2 L1850.7,824.2 L1852.2,793.8 L1854.8,732.5 L1856.8,768.6 L1858.7,794.2 L1861.9,777.3 L1864.5,888.2 L1866.7,944.7 L1868.3,914.9 L1870.9,847.8 L1872.9,872.8 L1874.7,887.0 L1877.9,847.8 L1879.9,851.6 L1881.7,861.4 L1884.5,819.3 L1885.9,792.2 L1889.1,744.1 L1891.4,739.5 L1893.3,735.7 L1896.0,775.4 L1897.1,794.2 L1898.4,773.2 L1900.0,738.9 L1903.8,750.5 L1905.3,786.4 L1907.0,826.2 L1910.2,796.6 L1912.2,825.5 L1914.4,867.8 L1916.8,849.2 L1918.6,843.4 L1921.8,817.8 L1923.8,810.8 L1925.6,799.8 L1928.4,836.0 L1929.5,843.4 L1930.7,853.0 L1933.0,864.2 L1934.6,880.6 L1937.8,805.0 L1940.0,758.1 L1943.2,824.2 L1944.6,830.8 L1946.4,843.4 L1949.6,920.3 L1951.9,955.9 L1953.8,901.6 L1955.1,863.8 L1956.1,870.9 L1958.3,888.2 L1961.5,922.3 L1963.0,908.7 L1964.7,888.2 L1967.9,824.2 L1970.0,802.2 L1972.1,783.7 L1974.6,797.9 L1976.2,805.0 L1979.4,811.4 L1981.5,860.8 L1982.6,888.2 L1983.8,893.9 L1985.8,911.0 L1988.4,879.5 L1989.7,856.2 L1990.8,843.7 L1993.1,815.8 L1994.5,806.2 L1997.7,871.0 L2000.9,824.2 L2002.3,825.4 L2004.1,819.0 L2007.3,888.6 L2009.2,846.7 L2010.5,828.6 L2011.5,846.0 L2013.7,867.8 L2016.9,838.2 L2018.5,859.9 L2020.1,896.6 L2023.1,855.3 L2024.3,841.4 L2025.4,849.3 L2027.5,880.6 L2030.7,824.2 L2032.3,812.4 L2034.5,806.2 L2037.0,840.5 L2038.4,858.2 L2042.5,824.2 L2043.9,805.9 L2045.7,785.7 L2048.5,779.3 L2050.5,772.5 L2053.7,824.2 L2055.4,868.7 L2056.9,888.2 L2060.1,933.1 L2062.4,951.0 L2064.9,962.3 L2067.0,915.1 L2068.1,888.2 L2069.3,879.9 L2071.3,872.2 L2073.9,830.9 L2075.5,803.0 L2078.7,843.4 L2080.8,896.8 L2081.9,920.3 L2083.2,938.3 L2085.1,965.1 L2088.3,981.5 L2090.1,930.3 L2091.5,888.2 L2094.7,808.2 L2097.0,771.8 L2098.6,750.1 L2102.4,781.3 L2103.9,773.3 L2105.6,758.1 L2108.8,792.2 L2111.4,851.8 L2113.2,839.6 L2115.2,822.2 L2118.4,832.6 L2120.1,802.1 L2121.6,759.7 L2124.7,783.7 L2125.8,794.2 L2127.0,775.4 L2129.0,770.9 L2131.7,795.5 L2133.1,813.4 L2137.0,742.1 L2138.6,760.7 L2140.8,779.3 L2144.0,817.8 L2145.5,825.0 L2147.2,843.4 L2150.1,859.4 L2151.4,869.0 L2152.5,891.3 L2155.6,909.4 L2157.8,888.2 L2159.4,876.8 L2162.0,846.2 L2164.0,874.8 L2165.8,909.4 L2168.6,902.1 L2170.6,899.0 L2173.8,970.3 L2175.6,952.7 L2177.0,934.3 L2180.2,1000.3 L2182.5,1013.4 L2184.4,1018.3 L2187.6,1000.3 L2189.4,963.3 L2190.8,952.3 L2194.0,840.2 L2197.2,772.5 L2198.7,790.4 L2201.0,805.0 L2204.2,830.6 L2205.6,840.4 L2207.4,843.8 L2210.6,760.1 L2212.5,735.3 L2213.9,714.9 L2217.1,792.2 L2220.3,888.2 L2221.8,913.9 L2225.1,968.3 L2226.4,975.6 L2229.2,995.9 L2231.0,928.7 L2233.1,856.2 L2235.6,760.1 L2238.8,721.3 L2240.2,751.6 L2242.0,792.2 L2245.2,888.2 L2247.2,919.6 L2249.7,971.9 L2251.8,938.2 L2253.9,895.8 L2257.1,923.5 L2258.7,940.0 L2261.2,957.5 L2263.3,921.4 L2265.1,888.2 L2268.3,840.2 L2270.3,804.0 L2272.1,777.3 L2274.9,802.2 L2276.3,810.2 L2279.5,760.1 L2282.7,700.5 L2284.1,714.9 L2286.9,734.5 L2288.7,772.2 L2290.1,792.2 L2293.9,824.2 L2295.7,829.5 L2297.1,839.0 L2300.0,792.2 L2302.6,790.1 L2303.8,770.9 L2304.9,789.7 L2307.0,824.2 L2309.5,864.0 L2311.2,895.0 L2314.2,865.3 L2315.4,856.2 L2316.5,836.2 L2318.6,808.2 L2321.1,801.7 L2324.0,796.6 L2325.7,816.2 L2328.2,856.2 L2330.3,873.3 L2331.4,881.8 L2332.6,886.6 L2335.2,888.2 L2337.3,920.4 L2339.1,955.9 L2341.9,940.9 L2343.2,936.3 L2346.4,824.2 L2349.6,734.5 L2351.1,719.0 L2353.4,699.9 L2354.4,689.3 L2355.7,709.2 L2358.3,744.1 L2360.4,779.9 L2361.5,808.2 L2362.7,830.0 L2364.1,851.8 L2367.9,828.6 L2369.6,871.3 L2371.1,917.5 L2374.2,897.1 L2375.3,888.2 L2376.5,879.6 L2379.4,856.2 L2381.1,827.1 L2382.6,804.6 L2386.5,814.6 L2388.1,836.7 L2390.3,872.2 L2393.5,906.2 L2395.0,894.8 L2397.7,872.2 L2399.6,820.7 L2400.9,792.2 L2401.9,769.1 L2404.1,715.3 L2406.6,714.3 L2408.9,707.6 L2410.5,711.7 L2413.7,792.2 L2415.8,834.9 L2416.9,858.2 L2418.1,845.3 L2421.1,824.2 L2422.7,805.4 L2424.9,772.9 L2428.1,744.1 L2429.7,741.8 L2431.3,729.3 L2435.1,781.3 L2436.6,764.0 L2439.3,751.7 L2441.2,819.2 L2442.5,861.4 L2443.5,840.1 L2446.7,793.4 L2448.1,821.3 L2450.5,851.8 L2452.8,822.3 L2454.4,806.2 L2457.4,824.4 L2458.5,826.2 L2459.7,816.0 L2462.0,788.8 L2463.3,767.7 L2467.2,824.2 L2468.9,834.2 L2470.4,845.4 L2474.5,779.3 L2475.9,781.2 L2478.7,756.5 L2480.5,774.4 L2481.9,792.2 L2485.1,856.2 L2488.3,903.0 L2489.7,878.3 L2492.2,843.4 L2494.3,822.3 L2496.0,792.2 L2499.2,769.3 L2501.3,784.8 L2502.4,781.3 L2503.6,782.4 L2506.6,758.1 L2508.2,798.4 L2509.8,824.2 L2513.0,869.4 L2515.1,833.1 L2517.1,805.0 L2519.7,789.0 L2521.0,766.1 L2522.1,773.6 L2524.2,808.2 L2526.7,827.4 L2528.0,845.4 L2530.6,795.0 L2533.8,851.8 L2535.9,833.0 L2537.6,803.0 L2540.8,877.4 L2542.8,840.3 L2545.0,798.2 L2548.2,840.2 L2549.8,861.3 L2551.4,883.8 L2554.4,841.4 L2555.6,824.2 L2556.7,824.5 L2558.8,798.6 L2561.3,784.7 L2562.6,780.5 L2563.6,797.9 L2566.5,856.2 L2568.3,866.6 L2570.6,893.4 L2572.9,869.9 L2574.8,843.4 L2577.5,810.7 L2578.6,798.2 L2579.8,804.4 L2582.1,816.7 L2583.4,817.8 L2584.4,842.3 L2586.6,888.2 L2589.8,926.7 L2591.4,932.5 L2593.7,940.8 L2595.3,951.1 L2598.3,897.7 L2599.4,881.8 L2600.6,878.0 L2603.6,873.4 L2605.2,890.4 L2607.4,915.9 L2609.8,855.5 L2611.3,822.2 L2615.5,839.0 L2616.8,823.4 L2618.7,811.0 L2621.9,845.4 L2624.1,824.2" fill="none" stroke="#4477AA" stroke-width="12.5" stroke-linejoin="round" stroke-linecap="butt"/>
<g clip-path="url(#c2)" fill="#4477AA" stroke="#000" stroke-width="4.0" stroke-linejoin="miter">
<rect x="2746.5" y="236.05" width="2.31" height="29.55"/>
<rect x="2746.5" y="206.50" width="2.31" height="29.55"/>
<rect x="2746.5" y="176.95" width="2.31" height="29.55"/>
<rect x="2746.5" y="147.40" width="2.31" height="29.55"/>
<rect x="2746.5" y="265.60" width="4.63" height="29.55"/>
<rect x="2746.5" y="295.15" width="4.63" height="29.55"/>
<rect x="2746.5" y="324.70" width="13.89" height="29.55"/>
<rect x="2746.5" y="354.25" width="4.63" height="29.55"/>
<rect x="2746.5" y="383.80" width="16.20" height="29.55"/>
<rect x="2746.5" y="413.35" width="30.09" height="29.55"/>
<rect x="2746.5" y="442.90" width="34.72" height="29.55"/>
<rect x="2746.5" y="472.45" width="50.92" height="29.55"/>
<rect x="2746.5" y="502.00" width="71.75" height="29.55"/>
<rect x="2746.5" y="531.55" width="81.01" height="29.55"/>
<rect x="2746.5" y="561.10" width="99.52" height="29.55"/>
<rect x="2746.5" y="590.65" width="131.93" height="29.55"/>
<rect x="2746.5" y="620.20" width="182.85" height="29.55"/>
<rect x="2746.5" y="649.75" width="175.90" height="29.55"/>
<rect x="2746.5" y="679.30" width="199.05" height="29.55"/>
<rect x="2746.5" y="708.85" width="245.34" height="29.55"/>
<rect x="2746.5" y="738.40" width="247.65" height="29.55"/>
<rect x="2746.5" y="767.95" width="287.00" height="29.55"/>
<rect x="2746.5" y="797.50" width="275.43" height="29.55"/>
<rect x="2746.5" y="827.05" width="236.08" height="29.55"/>
<rect x="2746.5" y="856.60" width="312.46" height="29.55"/>
<rect x="2746.5" y="886.15" width="252.28" height="29.55"/>
<rect x="2746.5" y="915.70" width="261.54" height="29.55"/>
<rect x="2746.5" y="945.25" width="256.91" height="29.55"/>
<rect x="2746.5" y="974.80" width="199.05" height="29.55"/>
<rect x="2746.5" y="1004.35" width="162.02" height="29.55"/>
<rect x="2746.5" y="1033.90" width="155.07" height="29.55"/>
<rect x="2746.5" y="1063.45" width="131.93" height="29.55"/>
<rect x="2746.5" y="1093.00" width="111.10" height="29.55"/>
<rect x="2746.5" y="1122.55" width="78.69" height="29.55"/>
<rect x="2746.5" y="1152.10" width="85.64" height="29.55"/>
<rect x="2746.5" y="1181.65" width="50.92" height="29.55"/>
<rect x="2746.5" y="1211.20" width="39.35" height="29.55"/>
<rect x="2746.5" y="1240.75" width="23.15" height="29.55"/>
<rect x="2746.5" y="1270.30" width="13.89" height="29.55"/>
<rect x="2746.5" y="1299.85" width="13.89" height="29.55"/>
<rect x="2746.5" y="1329.40" width="13.89" height="29.55"/>
<rect x="2746.5" y="1358.95" width="6.94" height="29.55"/>
<rect x="2746.5" y="1418.05" width="2.31" height="29.55"/>
</g>
<path d="M405.84,1551.3 v-15.6 M405.84,145.4 v15.6 M498.28,1551.3 v-15.6 M498.28,145.4 v15.6 M590.72,1551.3 v-15.6 M590.72,145.4 v15.6 M683.16,1551.3 v-15.6 M683.16,145.4 v15.6 M868.04,1551.3 v-15.6 M868.04,145.4 v15.6 M960.48,1551.3 v-15.6 M960.48,145.4 v15.6 M1052.92,1551.3 v-15.6 M1052.92,145.4 v15.6 M1145.36,1551.3 v-15.6 M1145.36,145.4 v15.6 M1330.24,1551.3 v-15.6 M1330.24,145.4 v15.6 M1422.68,1551.3 v-15.6 M1422.68,145.4 v15.6 M1515.12,1551.3 v-15.6 M1515.12,145.4 v15.6 M1607.56,1551.3 v-15.6 M1607.56,145.4 v15.6 M1792.44,1551.3 v-15.6 M1792.44,145.4 v15.6 M1884.88,1551.3 v-15.6 M1884.88,145.4 v15.6 M1977.32,1551.3 v-15.6 M1977.32,145.4 v15.6 M2069.76,1551.3 v-15.6 M2069.76,145.4 v15.6 M2254.64,1551.3 v-15.6 M2254.64,145.4 v15.6 M2347.08,1551.3 v-15.6 M2347.08,145.4 v15.6 M2439.52,1551.3 v-15.6 M2439.52,145.4 v15.6 M2531.96,1551.3 v-15.6 M2531.96,145.4 v15.6 M313.40,1551.3 v-31.2 M313.40,145.4 v31.2 M775.60,1551.3 v-31.2 M775.60,145.4 v31.2 M1237.80,1551.3 v-31.2 M1237.80,145.4 v31.2 M1700.00,1551.3 v-31.2 M1700.00,145.4 v31.2 M2162.20,1551.3 v-31.2 M2162.20,145.4 v31.2 M2624.40,1551.3 v-31.2 M2624.40,145.4 v31.2 M313.4,1494.26 h15.6 M2624.4,1494.26 h-15.6 M313.4,1438.03 h15.6 M2624.4,1438.03 h-15.6 M313.4,1381.79 h15.6 M2624.4,1381.79 h-15.6 M313.4,1325.56 h15.6 M2624.4,1325.56 h-15.6 M313.4,1213.08 h15.6 M2624.4,1213.08 h-15.6 M313.4,1156.85 h15.6 M2624.4,1156.85 h-15.6 M313.4,1100.61 h15.6 M2624.4,1100.61 h-15.6 M313.4,1044.38 h15.6 M2624.4,1044.38 h-15.6 M313.4,931.90 h15.6 M2624.4,931.90 h-15.6 M313.4,875.67 h15.6 M2624.4,875.67 h-15.6 M313.4,819.43 h15.6 M2624.4,819.43 h-15.6 M313.4,763.20 h15.6 M2624.4,763.20 h-15.6 M313.4,650.72 h15.6 M2624.4,650.72 h-15.6 M313.4,594.49 h15.6 M2624.4,594.49 h-15.6 M313.4,538.25 h15.6 M2624.4,538.25 h-15.6 M313.4,482.02 h15.6 M2624.4,482.02 h-15.6 M313.4,369.54 h15.6 M2624.4,369.54 h-15.6 M313.4,313.31 h15.6 M2624.4,313.31 h-15.6 M313.4,257.07 h15.6 M2624.4,257.07 h-15.6 M313.4,200.84 h15.6 M2624.4,200.84 h-15.6 M313.4,1550.50 h31.2 M2624.4,1550.50 h-31.2 M313.4,1269.32 h31.2 M2624.4,1269.32 h-31.2 M313.4,988.14 h31.2 M2624.4,988.14 h-31.2 M313.4,706.96 h31.2 M2624.4,706.96 h-31.2 M313.4,425.78 h31.2 M2624.4,425.78 h-31.2 M313.4,144.60 h31.2 M2624.4,144.60 h-31.2" stroke="#000" stroke-width="2.1" fill="none"/>
<path d="M2862.22,1551.3 v-15.6 M2862.22,145.4 v15.6 M2977.95,1551.3 v-15.6 M2977.95,145.4 v15.6 M3093.68,1551.3 v-15.6 M3093.68,145.4 v15.6 M2746.50,1551.3 v-31.2 M2746.50,145.4 v31.2 M3209.40,1551.3 v-31.2 M3209.40,145.4 v31.2 M2746.5,1494.26 h15.6 M3209.4,1494.26 h-15.6 M2746.5,1438.03 h15.6 M3209.4,1438.03 h-15.6 M2746.5,1381.79 h15.6 M3209.4,1381.79 h-15.6 M2746.5,1325.56 h15.6 M3209.4,1325.56 h-15.6 M2746.5,1213.08 h15.6 M3209.4,1213.08 h-15.6 M2746.5,1156.85 h15.6 M3209.4,1156.85 h-15.6 M2746.5,1100.61 h15.6 M3209.4,1100.61 h-15.6 M2746.5,1044.38 h15.6 M3209.4,1044.38 h-15.6 M2746.5,931.90 h15.6 M3209.4,931.90 h-15.6 M2746.5,875.67 h15.6 M3209.4,875.67 h-15.6 M2746.5,819.43 h15.6 M3209.4,819.43 h-15.6 M2746.5,763.20 h15.6 M3209.4,763.20 h-15.6 M2746.5,650.72 h15.6 M3209.4,650.72 h-15.6 M2746.5,594.49 h15.6 M3209.4,594.49 h-15.6 M2746.5,538.25 h15.6 M3209.4,538.25 h-15.6 M2746.5,482.02 h15.6 M3209.4,482.02 h-15.6 M2746.5,369.54 h15.6 M3209.4,369.54 h-15.6 M2746.5,313.31 h15.6 M3209.4,313.31 h-15.6 M2746.5,257.07 h15.6 M3209.4,257.07 h-15.6 M2746.5,200.84 h15.6 M3209.4,200.84 h-15.6 M2746.5,1550.50 h31.2 M3209.4,1550.50 h-31.2 M2746.5,1269.32 h31.2 M3209.4,1269.32 h-31.2 M2746.5,988.14 h31.2 M3209.4,988.14 h-31.2 M2746.5,706.96 h31.2 M3209.4,706.96 h-31.2 M2746.5,425.78 h31.2 M3209.4,425.78 h-31.2 M2746.5,144.60 h31.2 M3209.4,144.60 h-31.2" stroke="#000" stroke-width="2.1" fill="none"/>
<rect x="313.4" y="145.4" width="2311.0" height="1405.8999999999999" fill="none" stroke="#000" stroke-width="3.3"/>
<rect x="2746.5" y="145.4" width="462.9000000000001" height="1405.8999999999999" fill="none" stroke="#000" stroke-width="3.3"/>
<text transform="translate(296.50,1571.80) scale(0.648,1)" font-size="84.2" text-anchor="end" >0.63</text>
<text transform="translate(296.50,1290.62) scale(0.648,1)" font-size="84.2" text-anchor="end" >0.64</text>
<text transform="translate(296.50,1009.44) scale(0.648,1)" font-size="84.2" text-anchor="end" >0.65</text>
<text transform="translate(296.50,728.26) scale(0.648,1)" font-size="84.2" text-anchor="end" >0.66</text>
<text transform="translate(296.50,447.08) scale(0.648,1)" font-size="84.2" text-anchor="end" >0.67</text>
<text transform="translate(296.50,165.90) scale(0.648,1)" font-size="84.2" text-anchor="end" >0.68</text>
<text transform="translate(313.90,1626.50) scale(0.648,1)" font-size="84.2" text-anchor="middle" >0</text>
<text transform="translate(776.10,1626.50) scale(0.648,1)" font-size="84.2" text-anchor="middle" >1000</text>
<text transform="translate(1238.30,1626.50) scale(0.648,1)" font-size="84.2" text-anchor="middle" >2000</text>
<text transform="translate(1700.50,1626.50) scale(0.648,1)" font-size="84.2" text-anchor="middle" >3000</text>
<text transform="translate(2162.70,1626.50) scale(0.648,1)" font-size="84.2" text-anchor="middle" >4000</text>
<text transform="translate(2624.90,1626.50) scale(0.648,1)" font-size="84.2" text-anchor="middle" >5000</text>
<text transform="translate(2746.50,1626.50) scale(0.648,1)" font-size="84.2" text-anchor="middle" >0</text>
<text transform="translate(3209.40,1626.50) scale(0.648,1)" font-size="84.2" text-anchor="middle" >200</text>
<text transform="translate(1466.50,1736.00) scale(0.6336,1)" font-size="108" text-anchor="middle" >Time <tspan font-size="90" dy="-9">(</tspan><tspan dy="9">ns</tspan><tspan font-size="90" dy="-9">)</tspan></text>
<text transform="translate(2978.00,1736.50) scale(0.59,1)" font-size="108" text-anchor="middle" >Counts</text>
<text transform="translate(1466.00,120.70) scale(0.6345,1)" font-size="108" text-anchor="middle" >Area per lipid</text>
<text transform="translate(146.00,849.00) rotate(-90) scale(0.6397,1)" font-size="108" text-anchor="middle" >Area per lipid <tspan font-size="90" dy="-9">(</tspan><tspan dy="9">nm</tspan><tspan font-size="75" dy="-37">2</tspan><tspan font-size="90" dy="28">)</tspan></text>
<rect x="2151" y="173.7" width="444" height="267" rx="11" ry="11" fill="#fff" fill-opacity="0.8" stroke="#ccc" stroke-opacity="0.8" stroke-width="3.4"/>
<path d="M2166,219.6 H2299.7" stroke="#4477AA" stroke-width="16.5" fill="none"/>
<path d="M2166,302.4 H2299.7" stroke="#228833" stroke-width="16.5" fill="none"/>
<path d="M2166,385.4 H2299.7" stroke="#AA3377" stroke-width="16.5" fill="none"/>
<text transform="translate(2338.00,238.60) scale(0.668,1)" font-size="57" text-anchor="start" >Total</text>
<text transform="translate(2338.00,322.80) scale(0.668,1)" font-size="57" text-anchor="start" >Upper leaflet</text>
<text transform="translate(2338.00,405.80) scale(0.668,1)" font-size="57" text-anchor="start" >Lower leaflet</text>
</svg></body></html>
